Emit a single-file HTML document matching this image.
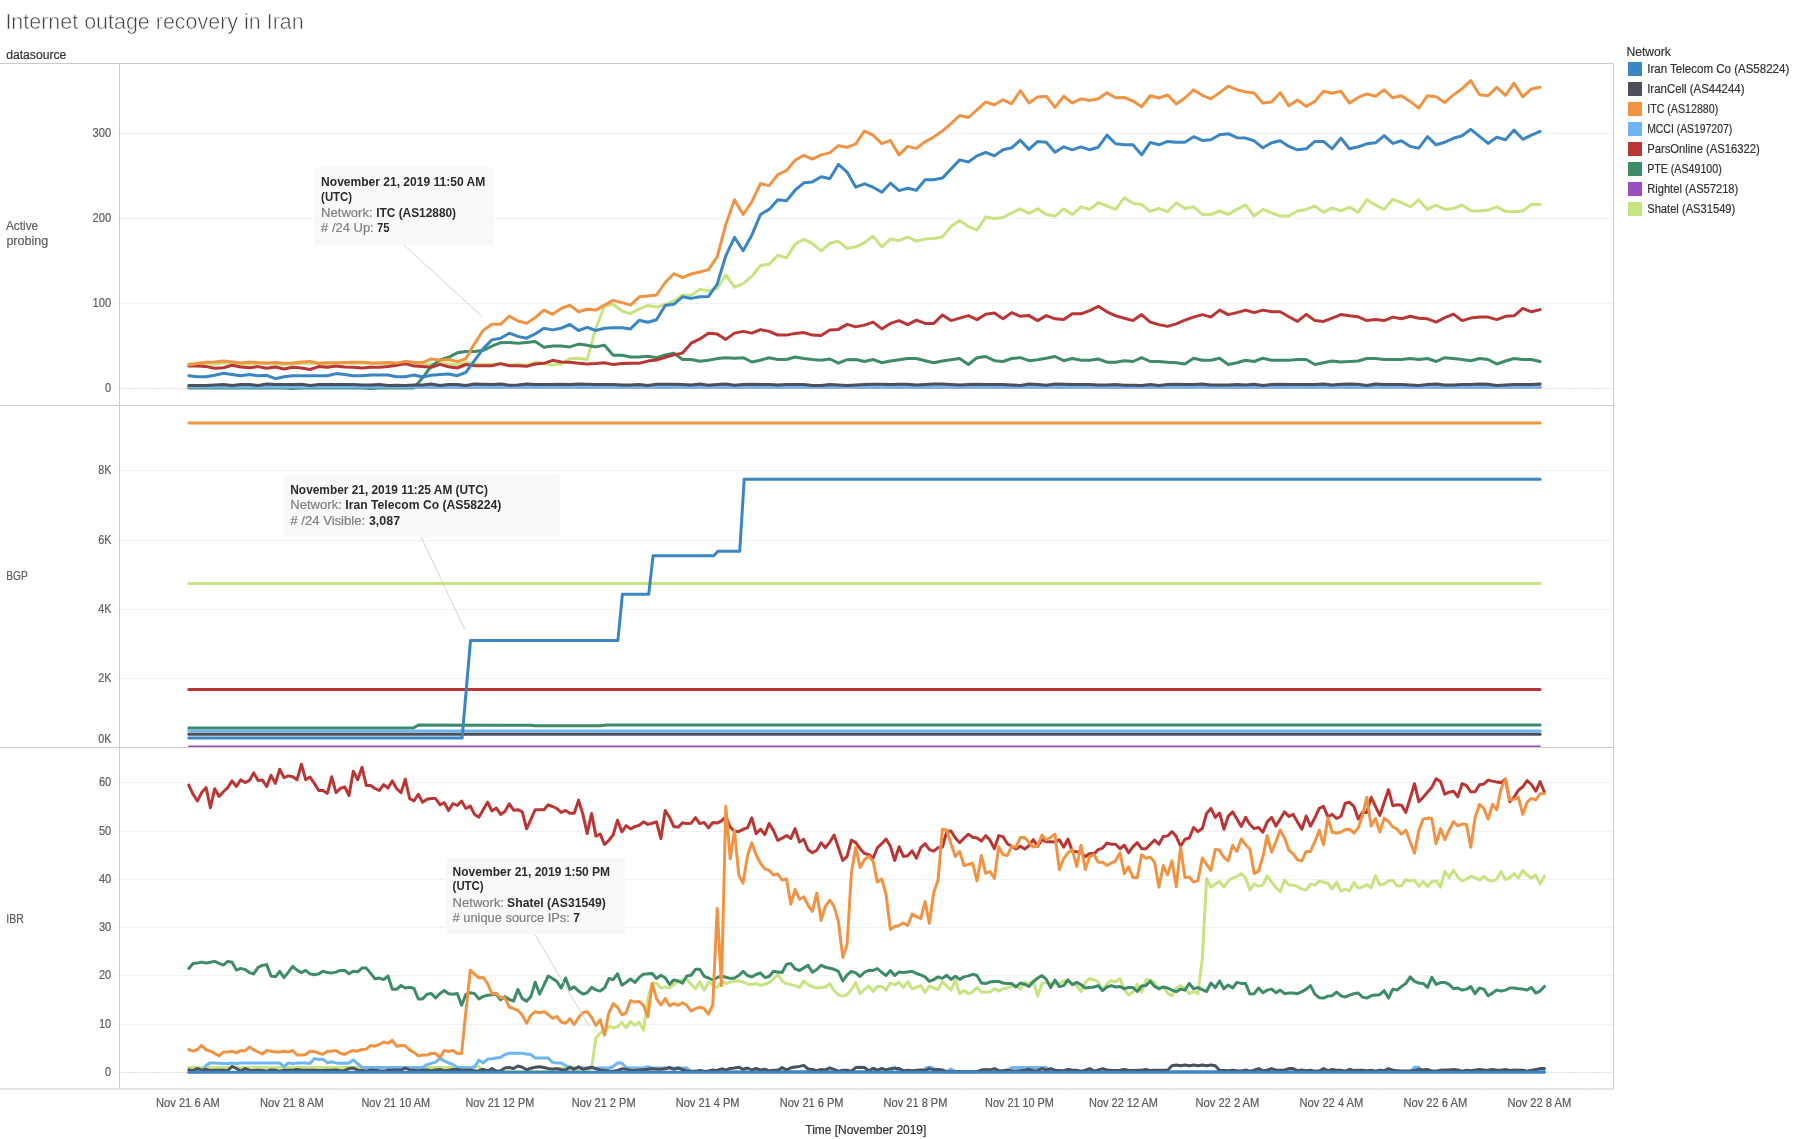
<!DOCTYPE html>
<html><head><meta charset="utf-8"><title>Internet outage recovery in Iran</title>
<style>html,body{margin:0;padding:0;background:#fff;}body{width:1794px;height:1139px;overflow:hidden;position:relative;font-family:"Liberation Sans", sans-serif;}</style>
</head><body>
<svg width="1794" height="1139" viewBox="0 0 1794 1139" style="display:block;position:absolute;left:0;top:0;will-change:transform" font-family='"Liberation Sans", sans-serif'>
<rect x="0" y="0" width="1794" height="1139" fill="#fff"/>
<line x1="114.5" y1="133.5" x2="1613.5" y2="133.5" stroke="#f1f1f1" stroke-width="1"/>
<line x1="114.5" y1="218.5" x2="1613.5" y2="218.5" stroke="#f1f1f1" stroke-width="1"/>
<line x1="114.5" y1="303.5" x2="1613.5" y2="303.5" stroke="#f1f1f1" stroke-width="1"/>
<line x1="114.5" y1="470.5" x2="1613.5" y2="470.5" stroke="#f1f1f1" stroke-width="1"/>
<line x1="114.5" y1="540.5" x2="1613.5" y2="540.5" stroke="#f1f1f1" stroke-width="1"/>
<line x1="114.5" y1="609.5" x2="1613.5" y2="609.5" stroke="#f1f1f1" stroke-width="1"/>
<line x1="114.5" y1="678.5" x2="1613.5" y2="678.5" stroke="#f1f1f1" stroke-width="1"/>
<line x1="114.5" y1="782.5" x2="1613.5" y2="782.5" stroke="#f1f1f1" stroke-width="1"/>
<line x1="114.5" y1="831.5" x2="1613.5" y2="831.5" stroke="#f1f1f1" stroke-width="1"/>
<line x1="114.5" y1="879.5" x2="1613.5" y2="879.5" stroke="#f1f1f1" stroke-width="1"/>
<line x1="114.5" y1="927.5" x2="1613.5" y2="927.5" stroke="#f1f1f1" stroke-width="1"/>
<line x1="114.5" y1="975.5" x2="1613.5" y2="975.5" stroke="#f1f1f1" stroke-width="1"/>
<line x1="114.5" y1="1024.5" x2="1613.5" y2="1024.5" stroke="#f1f1f1" stroke-width="1"/>
<line x1="114.5" y1="388.5" x2="119.5" y2="388.5" stroke="#f1f1f1" stroke-width="1"/>
<line x1="114.5" y1="1072.5" x2="119.5" y2="1072.5" stroke="#f1f1f1" stroke-width="1"/>
<line x1="119.5" y1="388.5" x2="1613.5" y2="388.5" stroke="#bdbdbd" stroke-width="1" stroke-dasharray="1 2"/>
<line x1="119.5" y1="1072.5" x2="1613.5" y2="1072.5" stroke="#bdbdbd" stroke-width="1" stroke-dasharray="1 2"/>
<line x1="0.0" y1="63.5" x2="1613.5" y2="63.5" stroke="#cbcbcb" stroke-width="1"/>
<line x1="0.0" y1="405.5" x2="1613.5" y2="405.5" stroke="#cbcbcb" stroke-width="1"/>
<line x1="0.0" y1="747.5" x2="1613.5" y2="747.5" stroke="#cbcbcb" stroke-width="1"/>
<line x1="0.0" y1="1089.0" x2="1613.5" y2="1089.0" stroke="#cbcbcb" stroke-width="1"/>
<line x1="119.5" y1="63.5" x2="119.5" y2="1089.0" stroke="#cbcbcb" stroke-width="1"/>
<line x1="1613.5" y1="63.5" x2="1613.5" y2="1089.0" stroke="#cbcbcb" stroke-width="1"/>
<line x1="188.0" y1="1089.5" x2="188.0" y2="1093.5" stroke="#e8e8e8" stroke-width="1"/>
<line x1="240.0" y1="1089.5" x2="240.0" y2="1091.5" stroke="#efefef" stroke-width="1"/>
<line x1="291.9" y1="1089.5" x2="291.9" y2="1093.5" stroke="#e8e8e8" stroke-width="1"/>
<line x1="343.9" y1="1089.5" x2="343.9" y2="1091.5" stroke="#efefef" stroke-width="1"/>
<line x1="395.9" y1="1089.5" x2="395.9" y2="1093.5" stroke="#e8e8e8" stroke-width="1"/>
<line x1="447.9" y1="1089.5" x2="447.9" y2="1091.5" stroke="#efefef" stroke-width="1"/>
<line x1="499.9" y1="1089.5" x2="499.9" y2="1093.5" stroke="#e8e8e8" stroke-width="1"/>
<line x1="551.8" y1="1089.5" x2="551.8" y2="1091.5" stroke="#efefef" stroke-width="1"/>
<line x1="603.8" y1="1089.5" x2="603.8" y2="1093.5" stroke="#e8e8e8" stroke-width="1"/>
<line x1="655.8" y1="1089.5" x2="655.8" y2="1091.5" stroke="#efefef" stroke-width="1"/>
<line x1="707.8" y1="1089.5" x2="707.8" y2="1093.5" stroke="#e8e8e8" stroke-width="1"/>
<line x1="759.7" y1="1089.5" x2="759.7" y2="1091.5" stroke="#efefef" stroke-width="1"/>
<line x1="811.7" y1="1089.5" x2="811.7" y2="1093.5" stroke="#e8e8e8" stroke-width="1"/>
<line x1="863.7" y1="1089.5" x2="863.7" y2="1091.5" stroke="#efefef" stroke-width="1"/>
<line x1="915.6" y1="1089.5" x2="915.6" y2="1093.5" stroke="#e8e8e8" stroke-width="1"/>
<line x1="967.6" y1="1089.5" x2="967.6" y2="1091.5" stroke="#efefef" stroke-width="1"/>
<line x1="1019.6" y1="1089.5" x2="1019.6" y2="1093.5" stroke="#e8e8e8" stroke-width="1"/>
<line x1="1071.6" y1="1089.5" x2="1071.6" y2="1091.5" stroke="#efefef" stroke-width="1"/>
<line x1="1123.6" y1="1089.5" x2="1123.6" y2="1093.5" stroke="#e8e8e8" stroke-width="1"/>
<line x1="1175.5" y1="1089.5" x2="1175.5" y2="1091.5" stroke="#efefef" stroke-width="1"/>
<line x1="1227.5" y1="1089.5" x2="1227.5" y2="1093.5" stroke="#e8e8e8" stroke-width="1"/>
<line x1="1279.5" y1="1089.5" x2="1279.5" y2="1091.5" stroke="#efefef" stroke-width="1"/>
<line x1="1331.5" y1="1089.5" x2="1331.5" y2="1093.5" stroke="#e8e8e8" stroke-width="1"/>
<line x1="1383.4" y1="1089.5" x2="1383.4" y2="1091.5" stroke="#efefef" stroke-width="1"/>
<line x1="1435.4" y1="1089.5" x2="1435.4" y2="1093.5" stroke="#e8e8e8" stroke-width="1"/>
<line x1="1487.4" y1="1089.5" x2="1487.4" y2="1091.5" stroke="#efefef" stroke-width="1"/>
<line x1="1539.4" y1="1089.5" x2="1539.4" y2="1093.5" stroke="#e8e8e8" stroke-width="1"/>
<line x1="1591.3" y1="1089.5" x2="1591.3" y2="1091.5" stroke="#efefef" stroke-width="1"/>
<polyline fill="none" stroke="#C6E480" stroke-width="3.0" stroke-linejoin="round" stroke-linecap="round" points="188.8,363.6 197.4,363.6 206.1,363.9 214.7,364.3 223.4,363.1 232.1,363.1 240.7,364.3 249.4,363.9 258.1,363.6 266.7,363.6 275.4,364.3 284.0,364.3 292.7,364.3 301.4,363.6 310.0,363.6 318.7,363.6 327.4,364.3 336.0,363.1 344.7,363.1 353.3,363.6 362.0,363.1 370.7,363.9 379.3,363.1 388.0,363.9 396.6,364.3 405.3,364.3 414.0,364.3 422.6,364.3 431.3,364.3 440.0,363.6 448.6,364.0 457.3,365.0 465.9,362.0 474.6,364.0 483.3,364.5 491.9,364.5 500.6,363.6 509.3,365.0 517.9,364.1 526.6,365.3 535.2,362.3 543.9,363.6 552.6,365.0 561.2,364.1 569.9,358.6 578.6,358.3 587.2,359.5 595.9,328.2 604.5,306.0 613.2,304.3 621.9,311.0 630.5,313.8 639.2,308.8 647.9,305.5 656.5,307.1 665.2,304.3 673.8,300.9 682.5,295.1 691.2,295.4 699.8,289.2 708.5,290.9 717.2,288.1 725.8,275.0 734.5,287.1 743.1,283.7 751.8,276.4 760.5,265.5 769.1,264.3 777.8,255.2 786.5,257.9 795.1,244.1 803.8,239.3 812.4,243.7 821.1,250.8 829.8,243.3 838.4,241.3 847.1,248.4 855.8,246.8 864.4,242.7 873.1,236.1 881.8,246.8 890.4,239.1 899.1,240.7 907.7,236.9 916.4,241.1 925.1,239.1 933.7,238.5 942.4,236.9 951.0,226.6 959.7,220.5 968.4,226.6 977.0,230.0 985.7,217.1 994.4,218.5 1003.0,217.5 1011.7,212.8 1020.3,208.8 1029.0,213.4 1037.7,208.8 1046.3,214.5 1055.0,216.1 1063.7,208.8 1072.3,214.5 1081.0,206.8 1089.7,209.4 1098.3,202.7 1107.0,206.0 1115.6,209.4 1124.3,197.7 1133.0,203.3 1141.6,204.4 1150.3,211.4 1158.9,208.4 1167.6,211.8 1176.3,202.7 1184.9,208.4 1193.6,206.8 1202.3,214.5 1210.9,214.5 1219.6,211.0 1228.2,214.5 1236.9,209.4 1245.6,205.0 1254.2,216.1 1262.9,209.4 1271.6,212.8 1280.2,216.1 1288.9,215.9 1297.5,211.0 1306.2,209.4 1314.9,206.0 1323.5,212.4 1332.2,207.8 1340.9,210.8 1349.5,207.0 1358.2,212.4 1366.8,199.9 1375.5,205.0 1384.2,209.4 1392.8,199.3 1401.5,202.7 1410.2,206.8 1418.8,199.9 1427.5,209.4 1436.1,205.0 1444.8,209.4 1453.5,208.4 1462.1,205.0 1470.8,210.8 1479.5,211.0 1488.1,210.0 1496.8,206.8 1505.5,211.4 1514.1,211.8 1522.8,211.0 1531.4,204.4 1540.1,204.4"/>
<polyline fill="none" stroke="#9B4DC1" stroke-width="3.0" stroke-linejoin="round" stroke-linecap="round" points="188.8,387.1 197.4,387.1 206.1,387.1 214.7,387.1 223.4,387.1 232.1,387.1 240.7,387.1 249.4,387.1 258.1,387.1 266.7,387.1 275.4,387.1 284.0,387.1 292.7,387.1 301.4,387.1 310.0,387.1 318.7,387.1 327.4,387.1 336.0,387.1 344.7,387.1 353.3,387.1 362.0,387.1 370.7,387.1 379.3,387.1 388.0,387.1 396.6,387.1 405.3,387.1 414.0,387.1 422.6,387.1 431.3,387.1 440.0,387.1 448.6,387.1 457.3,387.1 465.9,387.1 474.6,387.1 483.3,387.1 491.9,387.1 500.6,387.1 509.3,387.1 517.9,387.1 526.6,387.1 535.2,387.1 543.9,387.1 552.6,387.1 561.2,387.1 569.9,387.1 578.6,387.1 587.2,387.1 595.9,387.1 604.5,387.1 613.2,387.1 621.9,387.1 630.5,387.1 639.2,387.1 647.9,387.1 656.5,387.1 665.2,387.1 673.8,387.1 682.5,387.1 691.2,387.1 699.8,387.1 708.5,387.1 717.2,387.1 725.8,387.1 734.5,387.1 743.1,387.1 751.8,387.1 760.5,387.1 769.1,387.1 777.8,387.1 786.5,387.1 795.1,387.1 803.8,387.1 812.4,387.1 821.1,387.1 829.8,387.1 838.4,387.1 847.1,387.1 855.8,387.1 864.4,387.1 873.1,387.1 881.8,387.1 890.4,387.1 899.1,387.1 907.7,387.1 916.4,387.1 925.1,387.1 933.7,387.1 942.4,387.1 951.0,387.1 959.7,387.1 968.4,387.1 977.0,387.1 985.7,387.1 994.4,387.1 1003.0,387.1 1011.7,387.1 1020.3,387.1 1029.0,387.1 1037.7,387.1 1046.3,387.1 1055.0,387.1 1063.7,387.1 1072.3,387.1 1081.0,387.1 1089.7,387.1 1098.3,387.1 1107.0,387.1 1115.6,387.1 1124.3,387.1 1133.0,387.1 1141.6,387.1 1150.3,387.1 1158.9,387.1 1167.6,387.1 1176.3,387.1 1184.9,387.1 1193.6,387.1 1202.3,387.1 1210.9,387.1 1219.6,387.1 1228.2,387.1 1236.9,387.1 1245.6,387.1 1254.2,387.1 1262.9,387.1 1271.6,387.1 1280.2,387.1 1288.9,387.1 1297.5,387.1 1306.2,387.1 1314.9,387.1 1323.5,387.1 1332.2,387.1 1340.9,387.1 1349.5,387.1 1358.2,387.1 1366.8,387.1 1375.5,387.1 1384.2,387.1 1392.8,387.1 1401.5,387.1 1410.2,387.1 1418.8,387.1 1427.5,387.1 1436.1,387.1 1444.8,387.1 1453.5,387.1 1462.1,387.1 1470.8,387.1 1479.5,387.1 1488.1,387.1 1496.8,387.1 1505.5,387.1 1514.1,387.1 1522.8,387.1 1531.4,387.1 1540.1,387.1"/>
<polyline fill="none" stroke="#3E8B68" stroke-width="3.0" stroke-linejoin="round" stroke-linecap="round" points="188.8,388.0 197.4,388.0 206.1,388.0 214.7,388.0 223.4,388.0 232.1,388.0 240.7,388.0 249.4,388.0 258.1,388.0 266.7,388.0 275.4,388.0 284.0,388.0 292.7,388.4 301.4,388.0 310.0,388.0 318.7,388.0 327.4,388.0 336.0,388.0 344.7,388.0 353.3,388.0 362.0,388.0 370.7,388.4 379.3,388.0 388.0,388.0 396.6,388.0 405.3,388.0 414.0,387.9 422.6,377.8 431.3,366.1 440.0,359.9 448.6,357.3 457.3,352.8 465.9,351.4 474.6,351.4 483.3,350.3 491.9,346.1 500.6,342.7 509.3,342.4 517.9,343.2 526.6,342.4 535.2,341.6 543.9,347.3 552.6,346.1 561.2,346.1 569.9,346.9 578.6,344.1 587.2,345.3 595.9,346.9 604.5,345.3 613.2,355.3 621.9,355.3 630.5,357.0 639.2,357.0 647.9,356.3 656.5,357.8 665.2,354.9 673.8,353.1 682.5,359.5 691.2,359.5 699.8,361.3 708.5,360.3 717.2,358.6 725.8,357.8 734.5,358.2 743.1,357.7 751.8,362.0 760.5,360.2 769.1,357.7 777.8,359.5 786.5,359.5 795.1,357.0 803.8,358.5 812.4,359.5 821.1,360.2 829.8,359.0 838.4,363.2 847.1,359.7 855.8,359.5 864.4,361.5 873.1,359.5 881.8,362.7 890.4,361.0 899.1,359.7 907.7,358.5 916.4,358.5 925.1,360.7 933.7,362.7 942.4,361.0 951.0,359.7 959.7,358.5 968.4,364.5 977.0,357.7 985.7,356.5 994.4,360.7 1003.0,361.5 1011.7,358.5 1020.3,357.7 1029.0,360.7 1037.7,359.7 1046.3,358.2 1055.0,356.5 1063.7,360.7 1072.3,358.5 1081.0,360.2 1089.7,360.2 1098.3,359.0 1107.0,362.2 1115.6,362.2 1124.3,360.7 1133.0,361.5 1141.6,357.7 1150.3,361.5 1158.9,361.5 1167.6,362.2 1176.3,362.7 1184.9,364.0 1193.6,358.2 1202.3,360.2 1210.9,360.2 1219.6,358.2 1228.2,364.5 1236.9,362.7 1245.6,360.2 1254.2,361.5 1262.9,358.2 1271.6,360.2 1280.2,360.2 1288.9,360.2 1297.5,359.5 1306.2,359.5 1314.9,364.5 1323.5,362.7 1332.2,361.0 1340.9,362.0 1349.5,361.5 1358.2,361.0 1366.8,358.5 1375.5,358.5 1384.2,359.5 1392.8,359.5 1401.5,359.5 1410.2,358.5 1418.8,359.5 1427.5,358.5 1436.1,361.5 1444.8,357.7 1453.5,358.5 1462.1,359.5 1470.8,360.7 1479.5,358.5 1488.1,359.5 1496.8,364.0 1505.5,361.0 1514.1,358.5 1522.8,359.5 1531.4,359.5 1540.1,361.5"/>
<polyline fill="none" stroke="#B93634" stroke-width="3.0" stroke-linejoin="round" stroke-linecap="round" points="188.8,366.1 197.4,366.1 206.1,366.6 214.7,368.3 223.4,367.8 232.1,365.3 240.7,367.0 249.4,367.8 258.1,366.6 266.7,368.3 275.4,367.0 284.0,369.0 292.7,367.3 301.4,368.1 310.0,369.5 318.7,366.6 327.4,367.3 336.0,366.1 344.7,367.0 353.3,367.3 362.0,368.1 370.7,367.3 379.3,367.3 388.0,366.6 396.6,365.3 405.3,363.6 414.0,366.1 422.6,366.6 431.3,367.3 440.0,364.4 448.6,366.7 457.3,368.0 465.9,364.5 474.6,365.7 483.3,365.7 491.9,365.7 500.6,363.6 509.3,365.7 517.9,365.7 526.6,366.3 535.2,364.0 543.9,363.3 552.6,360.3 561.2,362.0 569.9,362.3 578.6,363.3 587.2,364.0 595.9,363.6 604.5,362.8 613.2,364.6 621.9,363.6 630.5,363.3 639.2,363.3 647.9,361.1 656.5,360.0 665.2,357.3 673.8,354.9 682.5,353.1 691.2,343.2 699.8,338.9 708.5,333.2 717.2,333.9 725.8,339.4 734.5,333.1 743.1,331.4 751.8,333.1 760.5,329.6 769.1,331.4 777.8,335.1 786.5,335.1 795.1,333.4 803.8,332.6 812.4,335.1 821.1,335.6 829.8,330.1 838.4,329.4 847.1,324.4 855.8,326.9 864.4,325.1 873.1,322.1 881.8,328.9 890.4,323.4 899.1,320.6 907.7,324.6 916.4,320.1 925.1,323.4 933.7,323.4 942.4,315.1 951.0,320.6 959.7,318.1 968.4,315.6 977.0,319.6 985.7,314.3 994.4,313.1 1003.0,318.8 1011.7,312.6 1020.3,316.3 1029.0,315.6 1037.7,320.6 1046.3,315.6 1055.0,318.8 1063.7,319.6 1072.3,313.8 1081.0,313.8 1089.7,310.6 1098.3,306.3 1107.0,311.8 1115.6,315.8 1124.3,318.3 1133.0,320.6 1141.6,314.6 1150.3,322.1 1158.9,324.6 1167.6,326.4 1176.3,323.9 1184.9,320.1 1193.6,317.1 1202.3,314.6 1210.9,317.1 1219.6,310.1 1228.2,314.6 1236.9,312.6 1245.6,310.1 1254.2,312.6 1262.9,310.1 1271.6,311.8 1280.2,311.8 1288.9,316.8 1297.5,321.4 1306.2,314.3 1314.9,320.6 1323.5,321.4 1332.2,318.1 1340.9,314.6 1349.5,315.8 1358.2,316.8 1366.8,320.6 1375.5,319.6 1384.2,320.6 1392.8,317.1 1401.5,318.8 1410.2,316.3 1418.8,318.3 1427.5,318.8 1436.1,322.1 1444.8,317.6 1453.5,314.1 1462.1,320.6 1470.8,318.1 1479.5,317.1 1488.1,317.1 1496.8,319.6 1505.5,316.3 1514.1,315.8 1522.8,308.3 1531.4,311.8 1540.1,309.6"/>
<polyline fill="none" stroke="#6EB5F2" stroke-width="3.0" stroke-linejoin="round" stroke-linecap="round" points="188.8,386.9 197.4,386.9 206.1,386.9 214.7,386.9 223.4,386.9 232.1,386.9 240.7,386.9 249.4,386.9 258.1,386.9 266.7,386.9 275.4,386.9 284.0,386.9 292.7,386.9 301.4,386.9 310.0,386.9 318.7,386.9 327.4,386.9 336.0,386.9 344.7,386.9 353.3,386.9 362.0,386.9 370.7,386.9 379.3,386.9 388.0,386.9 396.6,386.9 405.3,386.9 414.0,386.9 422.6,386.9 431.3,386.9 440.0,386.9 448.6,386.9 457.3,386.9 465.9,386.9 474.6,386.9 483.3,386.9 491.9,386.9 500.6,386.9 509.3,386.9 517.9,386.9 526.6,386.9 535.2,386.9 543.9,386.9 552.6,386.9 561.2,386.9 569.9,386.9 578.6,386.9 587.2,386.9 595.9,386.9 604.5,386.9 613.2,386.9 621.9,386.9 630.5,386.9 639.2,386.9 647.9,386.9 656.5,386.9 665.2,386.9 673.8,386.9 682.5,386.9 691.2,386.9 699.8,386.9 708.5,386.9 717.2,386.9 725.8,386.9 734.5,386.9 743.1,386.9 751.8,386.9 760.5,386.9 769.1,386.9 777.8,386.9 786.5,386.9 795.1,386.9 803.8,386.9 812.4,386.9 821.1,386.9 829.8,386.9 838.4,386.9 847.1,386.9 855.8,386.9 864.4,386.9 873.1,386.9 881.8,386.9 890.4,386.9 899.1,386.9 907.7,386.9 916.4,386.9 925.1,386.9 933.7,386.9 942.4,386.9 951.0,386.9 959.7,386.9 968.4,386.9 977.0,386.9 985.7,386.9 994.4,386.9 1003.0,386.9 1011.7,386.9 1020.3,386.9 1029.0,386.9 1037.7,386.9 1046.3,386.9 1055.0,386.9 1063.7,386.9 1072.3,386.9 1081.0,386.9 1089.7,386.9 1098.3,386.9 1107.0,386.9 1115.6,386.9 1124.3,386.9 1133.0,386.9 1141.6,386.9 1150.3,386.9 1158.9,386.9 1167.6,386.9 1176.3,386.9 1184.9,386.9 1193.6,386.9 1202.3,386.9 1210.9,386.9 1219.6,386.9 1228.2,386.9 1236.9,386.9 1245.6,386.9 1254.2,386.9 1262.9,386.9 1271.6,386.9 1280.2,386.9 1288.9,386.9 1297.5,386.9 1306.2,386.9 1314.9,386.9 1323.5,386.9 1332.2,386.9 1340.9,386.9 1349.5,386.9 1358.2,386.9 1366.8,386.9 1375.5,386.9 1384.2,386.9 1392.8,386.9 1401.5,386.9 1410.2,386.9 1418.8,386.9 1427.5,386.9 1436.1,386.9 1444.8,386.9 1453.5,386.9 1462.1,386.9 1470.8,386.9 1479.5,386.9 1488.1,386.9 1496.8,386.9 1505.5,386.9 1514.1,386.9 1522.8,386.9 1531.4,386.9 1540.1,386.9"/>
<polyline fill="none" stroke="#F09444" stroke-width="3.0" stroke-linejoin="round" stroke-linecap="round" points="188.8,364.9 197.4,363.6 206.1,362.3 214.7,361.9 223.4,361.1 232.1,361.9 240.7,363.1 249.4,361.9 258.1,362.6 266.7,363.1 275.4,362.6 284.0,363.3 292.7,363.1 301.4,361.9 310.0,361.4 318.7,363.3 327.4,362.8 336.0,362.8 344.7,362.6 353.3,362.3 362.0,362.3 370.7,362.8 379.3,363.1 388.0,362.6 396.6,363.1 405.3,361.4 414.0,362.3 422.6,362.6 431.3,358.9 440.0,360.3 448.6,359.5 457.3,361.6 465.9,358.6 474.6,343.6 483.3,330.2 491.9,324.3 500.6,324.3 509.3,316.0 517.9,321.0 526.6,323.2 535.2,317.7 543.9,310.1 552.6,314.3 561.2,308.5 569.9,305.1 578.6,311.8 587.2,309.3 595.9,310.1 604.5,305.1 613.2,300.4 621.9,302.6 630.5,305.1 639.2,296.8 647.9,295.9 656.5,295.1 665.2,282.5 673.8,273.7 682.5,277.6 691.2,274.0 699.8,272.0 708.5,269.6 717.2,256.9 725.8,224.5 734.5,199.7 743.1,214.5 751.8,201.9 760.5,183.6 769.1,185.6 777.8,174.7 786.5,170.6 795.1,160.3 803.8,155.3 812.4,159.1 821.1,154.9 829.8,152.9 838.4,145.6 847.1,147.4 855.8,143.8 864.4,131.1 873.1,135.1 881.8,143.6 890.4,140.4 899.1,154.9 907.7,146.4 916.4,148.4 925.1,141.8 933.7,137.1 942.4,131.1 951.0,123.6 959.7,115.5 968.4,117.5 977.0,109.9 985.7,102.0 994.4,104.8 1003.0,99.8 1011.7,103.8 1020.3,90.7 1029.0,103.0 1037.7,96.9 1046.3,96.3 1055.0,107.4 1063.7,96.3 1072.3,103.0 1081.0,98.8 1089.7,100.4 1098.3,98.8 1107.0,92.7 1115.6,97.8 1124.3,97.4 1133.0,101.0 1141.6,106.8 1150.3,95.7 1158.9,98.0 1167.6,94.9 1176.3,104.0 1184.9,98.0 1193.6,89.9 1202.3,95.3 1210.9,98.8 1219.6,92.7 1228.2,86.2 1236.9,89.7 1245.6,91.9 1254.2,92.9 1262.9,103.0 1271.6,102.0 1280.2,92.7 1288.9,105.8 1297.5,100.0 1306.2,106.4 1314.9,101.4 1323.5,91.3 1332.2,93.3 1340.9,91.3 1349.5,103.0 1358.2,97.4 1366.8,93.9 1375.5,96.3 1384.2,89.9 1392.8,97.8 1401.5,95.7 1410.2,101.4 1418.8,108.1 1427.5,95.7 1436.1,96.7 1444.8,102.4 1453.5,94.9 1462.1,88.7 1470.8,80.6 1479.5,94.7 1488.1,95.7 1496.8,87.3 1505.5,95.3 1514.1,83.2 1522.8,96.9 1531.4,88.9 1540.1,87.3"/>
<polyline fill="none" stroke="#4B505A" stroke-width="3.0" stroke-linejoin="round" stroke-linecap="round" points="188.8,385.4 197.4,385.4 206.1,385.4 214.7,384.9 223.4,384.5 232.1,385.4 240.7,384.5 249.4,384.5 258.1,385.4 266.7,384.1 275.4,384.5 284.0,384.5 292.7,384.5 301.4,384.3 310.0,385.4 318.7,384.5 327.4,384.5 336.0,384.5 344.7,384.5 353.3,384.5 362.0,384.9 370.7,384.9 379.3,384.5 388.0,385.4 396.6,385.2 405.3,385.4 414.0,384.9 422.6,384.9 431.3,384.1 440.0,385.4 448.6,384.5 457.3,384.5 465.9,385.4 474.6,384.1 483.3,384.3 491.9,384.5 500.6,384.1 509.3,385.2 517.9,384.9 526.6,384.1 535.2,384.5 543.9,384.5 552.6,384.5 561.2,384.3 569.9,384.5 578.6,384.1 587.2,384.3 595.9,384.5 604.5,384.5 613.2,384.5 621.9,384.9 630.5,384.9 639.2,384.5 647.9,385.4 656.5,384.3 665.2,384.3 673.8,384.3 682.5,384.5 691.2,384.9 699.8,384.1 708.5,385.2 717.2,384.5 725.8,384.1 734.5,385.2 743.1,384.5 751.8,384.3 760.5,384.5 769.1,384.5 777.8,384.9 786.5,384.5 795.1,384.5 803.8,384.5 812.4,385.4 821.1,385.4 829.8,384.5 838.4,384.9 847.1,385.4 855.8,384.9 864.4,384.5 873.1,384.3 881.8,384.3 890.4,384.5 899.1,384.3 907.7,384.3 916.4,384.9 925.1,384.5 933.7,384.1 942.4,384.1 951.0,384.5 959.7,384.9 968.4,384.5 977.0,384.3 985.7,384.5 994.4,384.5 1003.0,384.5 1011.7,384.9 1020.3,385.4 1029.0,384.1 1037.7,384.5 1046.3,385.2 1055.0,384.1 1063.7,384.3 1072.3,384.5 1081.0,384.5 1089.7,384.5 1098.3,384.9 1107.0,384.9 1115.6,384.5 1124.3,385.2 1133.0,385.2 1141.6,385.4 1150.3,384.5 1158.9,385.4 1167.6,384.5 1176.3,384.3 1184.9,384.5 1193.6,384.5 1202.3,384.1 1210.9,384.9 1219.6,384.9 1228.2,384.9 1236.9,384.5 1245.6,384.9 1254.2,384.3 1262.9,385.4 1271.6,384.5 1280.2,384.3 1288.9,384.5 1297.5,384.5 1306.2,384.5 1314.9,384.5 1323.5,384.1 1332.2,384.9 1340.9,384.3 1349.5,384.1 1358.2,384.3 1366.8,385.4 1375.5,384.1 1384.2,384.5 1392.8,384.5 1401.5,384.5 1410.2,384.9 1418.8,385.4 1427.5,384.5 1436.1,384.1 1444.8,384.9 1453.5,384.9 1462.1,384.5 1470.8,384.5 1479.5,384.1 1488.1,384.3 1496.8,385.4 1505.5,384.9 1514.1,384.5 1522.8,384.5 1531.4,384.5 1540.1,384.1"/>
<polyline fill="none" stroke="#3A86C4" stroke-width="3.0" stroke-linejoin="round" stroke-linecap="round" points="188.8,375.7 197.4,376.7 206.1,376.7 214.7,375.3 223.4,373.3 232.1,374.5 240.7,375.7 249.4,374.5 258.1,375.7 266.7,375.3 275.4,378.7 284.0,376.7 292.7,375.7 301.4,375.7 310.0,375.7 318.7,375.7 327.4,375.7 336.0,373.6 344.7,374.5 353.3,375.7 362.0,375.7 370.7,375.0 379.3,375.0 388.0,375.0 396.6,376.7 405.3,376.7 414.0,375.0 422.6,377.0 431.3,375.3 440.0,374.5 448.6,374.0 457.3,375.7 465.9,372.3 474.6,360.3 483.3,348.6 491.9,339.9 500.6,338.2 509.3,333.2 517.9,336.4 526.6,338.2 535.2,333.9 543.9,328.2 552.6,329.9 561.2,328.2 569.9,324.5 578.6,330.5 587.2,327.4 595.9,330.5 604.5,328.2 613.2,327.7 621.9,327.7 630.5,328.9 639.2,320.2 647.9,322.2 656.5,319.7 665.2,305.5 673.8,304.3 682.5,296.8 691.2,298.4 699.8,296.8 708.5,296.4 717.2,284.1 725.8,255.8 734.5,237.3 743.1,250.8 751.8,235.2 760.5,214.5 769.1,209.4 777.8,199.7 786.5,200.7 795.1,190.2 803.8,182.8 812.4,181.9 821.1,176.7 829.8,178.7 838.4,164.4 847.1,172.1 855.8,187.2 864.4,183.8 873.1,187.2 881.8,192.2 890.4,183.2 899.1,190.6 907.7,188.2 916.4,190.2 925.1,179.7 933.7,179.7 942.4,178.1 951.0,169.0 959.7,159.9 968.4,162.0 977.0,155.9 985.7,152.3 994.4,155.9 1003.0,149.8 1011.7,147.8 1020.3,140.2 1029.0,149.4 1037.7,141.4 1046.3,142.2 1055.0,152.3 1063.7,146.8 1072.3,149.8 1081.0,146.8 1089.7,149.8 1098.3,147.2 1107.0,135.1 1115.6,143.8 1124.3,144.8 1133.0,144.8 1141.6,154.9 1150.3,142.4 1158.9,144.8 1167.6,141.4 1176.3,142.2 1184.9,142.2 1193.6,136.7 1202.3,140.4 1210.9,139.7 1219.6,134.7 1228.2,133.7 1236.9,137.7 1245.6,138.1 1254.2,140.8 1262.9,147.8 1271.6,142.8 1280.2,140.8 1288.9,146.4 1297.5,149.8 1306.2,148.8 1314.9,141.4 1323.5,141.4 1332.2,148.8 1340.9,138.1 1349.5,148.8 1358.2,146.8 1366.8,143.8 1375.5,142.8 1384.2,135.7 1392.8,143.4 1401.5,140.8 1410.2,146.4 1418.8,148.2 1427.5,136.7 1436.1,144.8 1444.8,142.2 1453.5,138.3 1462.1,135.7 1470.8,129.3 1479.5,136.3 1488.1,143.4 1496.8,137.3 1505.5,139.7 1514.1,130.1 1522.8,139.3 1531.4,135.1 1540.1,131.3"/>
<polyline fill="none" stroke="#C6E480" stroke-width="3.0" stroke-linejoin="round" stroke-linecap="round" points="188.8,583.45 1540.1,583.45"/>
<polyline fill="none" stroke="#9B4DC1" stroke-width="1.6" stroke-linecap="round" points="188.8,746.2 1540.1,746.2"/>
<polyline fill="none" stroke="#3E8B68" stroke-width="3.0" stroke-linejoin="round" stroke-linecap="round" points="188.8,728.0 413.4,728.0 418.5,725.0 530,725.3 535,725.8 600,725.8 607,725.0 1540.1,725.0"/>
<polyline fill="none" stroke="#B93634" stroke-width="3.0" stroke-linejoin="round" stroke-linecap="round" points="188.8,689.4 1540.1,689.4"/>
<polyline fill="none" stroke="#6EB5F2" stroke-width="3.0" stroke-linejoin="round" stroke-linecap="round" points="188.8,731.0 1540.1,731.0"/>
<polyline fill="none" stroke="#F09444" stroke-width="3.0" stroke-linejoin="round" stroke-linecap="round" points="188.8,422.9 1540.1,422.9"/>
<polyline fill="none" stroke="#4B505A" stroke-width="3.0" stroke-linejoin="round" stroke-linecap="round" points="188.8,734.3 1540.1,734.3"/>
<polyline fill="none" stroke="#3A86C4" stroke-width="3.0" stroke-linejoin="round" stroke-linecap="round" points="188.8,738.0 462.1,738.0 470.5,640.5 617.9,640.5 622.4,594.3 648.7,594.3 653.1,555.7 713.7,555.7 717.9,551.3 739.7,551.3 744.2,479.3 1540.1,479.3"/>
<polyline fill="none" stroke="#C6E480" stroke-width="3.0" stroke-linejoin="round" stroke-linecap="round" points="188.8,1067.5 193.1,1067.5 197.4,1067.5 201.7,1067.5 206.1,1067.5 210.4,1067.5 214.7,1067.5 219.1,1067.5 223.4,1067.5 227.7,1067.5 232.1,1067.5 236.4,1067.5 240.7,1067.5 245.1,1067.5 249.4,1067.5 253.7,1067.5 258.1,1067.5 262.4,1067.5 266.7,1067.5 271.0,1067.5 275.4,1067.5 279.7,1067.5 284.0,1067.5 288.4,1067.5 292.7,1067.5 297.0,1067.5 301.4,1067.5 305.7,1067.5 310.0,1067.5 314.4,1067.5 318.7,1067.5 323.0,1067.5 327.4,1067.5 331.7,1067.5 336.0,1067.5 340.3,1067.5 344.7,1067.5 349.0,1067.5 353.3,1067.5 357.7,1067.5 362.0,1067.5 366.3,1067.5 370.7,1067.5 375.0,1067.5 379.3,1067.5 383.7,1067.5 388.0,1067.5 392.3,1067.5 396.6,1067.5 401.0,1067.5 405.3,1067.5 409.6,1067.5 414.0,1067.5 418.3,1067.5 422.6,1067.5 427.0,1067.5 431.3,1067.5 435.6,1067.5 440.0,1067.5 444.3,1067.5 448.6,1067.5 453.0,1067.5 457.3,1067.5 461.6,1067.5 465.9,1067.5 470.3,1067.5 474.6,1067.3 478.9,1066.6 483.3,1071.5 487.6,1071.5 491.9,1071.5 496.3,1071.5 500.6,1071.5 504.9,1071.5 509.3,1071.5 513.6,1071.5 517.9,1071.5 522.3,1071.5 526.6,1071.5 530.9,1071.5 535.2,1071.5 539.6,1071.5 543.9,1071.5 548.2,1071.5 552.6,1068.3 556.9,1068.3 561.2,1068.3 565.6,1068.3 569.9,1070.8 574.2,1070.8 578.6,1068.8 582.9,1070.8 587.2,1070.8 591.6,1068.0 595.9,1037.9 600.2,1032.9 604.5,1031.7 608.9,1026.2 613.2,1027.9 617.5,1026.7 621.9,1022.3 626.2,1027.9 630.5,1021.7 634.9,1025.4 639.2,1022.3 643.5,1030.4 647.9,998.6 652.2,983.2 656.5,983.2 660.9,988.1 665.2,986.9 669.5,988.1 673.8,984.4 678.2,981.9 682.5,979.4 686.8,979.4 691.2,984.4 695.5,988.6 699.8,981.9 704.2,990.1 708.5,982.4 712.8,984.4 717.2,987.6 721.5,981.6 725.8,983.4 730.2,982.4 734.5,981.0 738.8,981.0 743.1,982.0 747.5,984.0 751.8,984.4 756.1,983.4 760.5,985.4 764.8,984.4 769.1,982.4 773.5,979.0 777.8,974.5 782.1,981.0 786.5,983.6 790.8,984.6 795.1,985.6 799.5,987.4 803.8,981.0 808.1,984.6 812.4,986.6 816.8,988.0 821.1,987.4 825.4,987.0 829.8,983.6 834.1,990.5 838.4,994.7 842.8,996.1 847.1,994.7 851.4,989.5 855.8,982.6 860.1,993.7 864.4,989.5 868.8,986.0 873.1,991.5 877.4,986.6 881.8,986.4 886.1,990.1 890.4,983.0 894.7,985.0 899.1,982.4 903.4,987.6 907.7,981.6 912.1,989.1 916.4,987.4 920.7,985.6 925.1,992.5 929.4,986.0 933.7,988.0 938.1,989.5 942.4,981.6 946.7,986.0 951.0,990.1 955.4,980.0 959.7,993.7 964.0,990.5 968.4,993.7 972.7,992.1 977.0,987.4 981.4,992.1 985.7,992.1 990.0,992.1 994.4,988.7 998.7,991.1 1003.0,988.7 1007.4,988.0 1011.7,986.0 1016.0,985.0 1020.3,989.1 1024.7,982.0 1029.0,984.0 1033.3,981.0 1037.7,996.1 1042.0,983.4 1046.3,982.4 1050.7,984.0 1055.0,983.6 1059.3,983.4 1063.7,981.0 1068.0,980.0 1072.3,984.4 1076.7,985.6 1081.0,991.5 1085.3,982.4 1089.7,978.4 1094.0,980.0 1098.3,982.0 1102.6,990.1 1107.0,983.6 1111.3,980.6 1115.6,982.0 1120.0,978.6 1124.3,989.5 1128.6,995.1 1133.0,992.1 1137.3,984.4 1141.6,992.1 1146.0,980.0 1150.3,979.4 1154.6,983.0 1158.9,989.1 1163.3,987.0 1167.6,993.1 1171.9,995.7 1176.3,988.0 1180.6,985.6 1184.9,988.7 1189.3,993.7 1193.6,991.5 1197.9,993.7 1202.3,958.8 1206.6,878.4 1210.9,887.1 1215.3,884.1 1219.6,881.4 1223.9,887.1 1228.2,881.0 1232.6,878.0 1236.9,876.6 1241.2,873.6 1245.6,878.0 1249.9,890.1 1254.2,883.7 1258.6,886.1 1262.9,885.1 1267.2,876.0 1271.6,882.1 1275.9,887.7 1280.2,891.7 1284.6,880.0 1288.9,885.1 1293.2,885.1 1297.5,886.5 1301.9,889.1 1306.2,890.1 1310.5,884.1 1314.9,885.1 1319.2,881.0 1323.5,882.1 1327.9,883.5 1332.2,889.1 1336.5,882.1 1340.9,891.1 1345.2,889.1 1349.5,890.7 1353.9,882.5 1358.2,888.1 1362.5,887.1 1366.8,884.5 1371.2,887.7 1375.5,875.6 1379.8,885.1 1384.2,884.1 1388.5,881.0 1392.8,880.4 1397.2,886.1 1401.5,885.7 1405.8,879.6 1410.2,881.0 1414.5,880.0 1418.8,886.5 1423.2,881.4 1427.5,886.5 1431.8,881.6 1436.1,881.0 1440.5,887.1 1444.8,871.4 1449.1,877.6 1453.5,870.3 1457.8,877.0 1462.1,881.0 1466.5,879.0 1470.8,876.4 1475.1,877.6 1479.5,880.0 1483.8,876.4 1488.1,880.0 1492.5,881.0 1496.8,879.0 1501.1,871.6 1505.5,879.6 1509.8,877.6 1514.1,873.6 1518.4,878.0 1522.8,870.3 1527.1,875.0 1531.4,878.0 1535.8,875.0 1540.1,884.1 1544.4,876.0"/>
<polyline fill="none" stroke="#3E8B68" stroke-width="3.0" stroke-linejoin="round" stroke-linecap="round" points="188.8,968.4 193.1,963.4 197.4,963.1 201.7,962.1 206.1,963.1 210.4,962.2 214.7,961.4 219.1,963.4 223.4,965.1 227.7,961.4 232.1,962.2 236.4,970.1 240.7,968.4 245.1,969.6 249.4,972.6 253.7,973.9 258.1,967.3 262.4,965.4 266.7,964.6 271.0,976.0 275.4,976.8 279.7,971.3 284.0,977.6 288.4,972.1 292.7,966.4 297.0,970.1 301.4,972.6 305.7,970.4 310.0,973.9 314.4,974.8 318.7,973.9 323.0,971.3 327.4,972.6 331.7,972.9 336.0,972.1 340.3,970.4 344.7,970.4 349.0,973.8 353.3,971.3 357.7,971.8 362.0,968.1 366.3,968.1 370.7,973.4 375.0,978.8 379.3,978.1 383.7,979.6 388.0,976.0 392.3,989.3 396.6,989.3 401.0,985.5 405.3,988.0 409.6,987.3 414.0,988.5 418.3,998.9 422.6,998.9 427.0,994.3 431.3,993.5 435.6,998.0 440.0,993.5 444.3,990.5 448.6,993.8 453.0,994.3 457.3,993.5 461.6,1005.2 465.9,994.3 470.3,992.7 474.6,993.6 478.9,998.9 483.3,996.4 487.6,995.3 491.9,994.7 496.3,994.1 500.6,999.9 504.9,996.6 509.3,999.4 513.6,1001.1 517.9,989.4 522.3,998.6 526.6,1001.1 530.9,996.6 535.2,982.2 539.6,994.1 543.9,985.2 548.2,976.0 552.6,978.5 556.9,981.5 561.2,988.1 565.6,978.0 569.9,989.4 574.2,986.9 578.6,991.1 582.9,994.1 587.2,992.7 591.6,987.4 595.9,989.9 600.2,991.1 604.5,988.1 608.9,978.5 613.2,979.7 617.5,973.8 621.9,985.2 626.2,982.2 630.5,979.0 634.9,982.4 639.2,977.4 643.5,974.3 647.9,973.8 652.2,973.5 656.5,978.5 660.9,975.2 665.2,977.7 669.5,984.4 673.8,979.9 678.2,981.0 682.5,983.2 686.8,976.0 691.2,975.2 695.5,969.3 699.8,969.3 704.2,976.3 708.5,978.0 712.8,980.0 717.2,977.6 721.5,975.9 725.8,977.3 730.2,978.4 734.5,978.0 738.8,975.5 743.1,971.3 747.5,975.5 751.8,976.9 756.1,974.5 760.5,972.9 764.8,977.6 769.1,976.5 773.5,971.3 777.8,971.9 782.1,972.5 786.5,964.2 790.8,963.4 795.1,968.9 799.5,970.5 803.8,967.9 808.1,965.4 812.4,972.3 816.8,969.5 821.1,965.2 825.4,967.3 829.8,968.3 834.1,969.3 838.4,971.3 842.8,981.0 847.1,974.9 851.4,971.3 855.8,972.9 860.1,976.5 864.4,972.3 868.8,970.3 873.1,970.5 877.4,968.5 881.8,972.5 886.1,975.5 890.4,970.5 894.7,975.5 899.1,971.9 903.4,972.5 907.7,971.9 912.1,971.3 916.4,973.5 920.7,974.9 925.1,976.9 929.4,981.4 933.7,979.6 938.1,976.9 942.4,978.4 946.7,975.3 951.0,979.4 955.4,976.3 959.7,979.4 964.0,976.9 968.4,975.9 972.7,974.3 977.0,975.5 981.4,983.0 985.7,983.6 990.0,982.0 994.4,981.6 998.7,981.4 1003.0,983.0 1007.4,983.4 1011.7,983.6 1016.0,987.0 1020.3,983.0 1024.7,984.4 1029.0,986.4 1033.3,981.6 1037.7,978.0 1042.0,975.5 1046.3,979.4 1050.7,987.6 1055.0,980.0 1059.3,986.6 1063.7,985.6 1068.0,980.0 1072.3,984.6 1076.7,982.4 1081.0,984.6 1085.3,988.0 1089.7,987.4 1094.0,987.0 1098.3,985.6 1102.6,990.7 1107.0,987.0 1111.3,985.6 1115.6,987.0 1120.0,986.6 1124.3,988.7 1128.6,987.4 1133.0,987.6 1137.3,991.5 1141.6,986.0 1146.0,985.4 1150.3,981.4 1154.6,986.4 1158.9,988.7 1163.3,987.0 1167.6,988.0 1171.9,990.1 1176.3,991.7 1180.6,989.1 1184.9,990.1 1189.3,983.4 1193.6,988.7 1197.9,987.6 1202.3,989.7 1206.6,991.5 1210.9,983.0 1215.3,987.6 1219.6,981.0 1223.9,988.7 1228.2,985.0 1232.6,988.0 1236.9,982.4 1241.2,983.4 1245.6,983.6 1249.9,994.1 1254.2,993.7 1258.6,988.0 1262.9,992.7 1267.2,990.1 1271.6,989.1 1275.9,992.7 1280.2,990.1 1284.6,993.7 1288.9,993.1 1293.2,993.1 1297.5,993.7 1301.9,991.7 1306.2,989.1 1310.5,985.6 1314.9,994.1 1319.2,997.7 1323.5,998.1 1327.9,996.1 1332.2,995.7 1336.5,992.1 1340.9,995.7 1345.2,997.1 1349.5,995.1 1353.9,993.7 1358.2,993.1 1362.5,997.1 1366.8,998.1 1371.2,995.7 1375.5,995.1 1379.8,994.7 1384.2,990.7 1388.5,998.1 1392.8,989.1 1397.2,990.1 1401.5,986.4 1405.8,983.6 1410.2,976.9 1414.5,981.4 1418.8,983.0 1423.2,983.4 1427.5,987.4 1431.8,977.3 1436.1,984.4 1440.5,982.6 1444.8,982.4 1449.1,984.4 1453.5,988.7 1457.8,988.0 1462.1,990.1 1466.5,989.1 1470.8,986.6 1475.1,993.7 1479.5,988.0 1483.8,989.1 1488.1,995.7 1492.5,993.1 1496.8,990.1 1501.1,991.1 1505.5,990.1 1509.8,988.0 1514.1,988.0 1518.4,988.7 1522.8,989.1 1527.1,990.1 1531.4,987.4 1535.8,993.1 1540.1,991.1 1544.4,986.4"/>
<polyline fill="none" stroke="#B93634" stroke-width="3.0" stroke-linejoin="round" stroke-linecap="round" points="188.8,785.1 193.1,794.3 197.4,801.0 201.7,792.6 206.1,787.6 210.4,807.7 214.7,788.8 219.1,796.5 223.4,791.8 227.7,787.6 232.1,780.9 236.4,786.5 240.7,779.8 245.1,782.6 249.4,780.4 253.7,772.9 258.1,780.4 262.4,780.1 266.7,786.5 271.0,775.4 275.4,783.4 279.7,769.2 284.0,777.6 288.4,775.9 292.7,776.8 297.0,779.8 301.4,764.2 305.7,779.8 310.0,777.1 314.4,783.4 318.7,790.5 323.0,790.5 327.4,793.5 331.7,776.8 336.0,792.6 340.3,788.5 344.7,786.8 349.0,795.5 353.3,771.2 357.7,779.8 362.0,767.2 366.3,785.5 370.7,785.5 375.0,788.5 379.3,790.5 383.7,784.6 388.0,788.1 392.3,780.9 396.6,788.5 401.0,792.6 405.3,779.3 409.6,798.5 414.0,801.0 418.3,794.3 422.6,802.2 427.0,799.3 431.3,798.5 435.6,798.5 440.0,804.8 444.3,802.7 448.6,810.5 453.0,803.5 457.3,805.5 461.6,801.0 465.9,808.5 470.3,806.0 474.6,814.4 478.9,817.2 483.3,809.4 487.6,802.2 491.9,811.0 496.3,808.0 500.6,814.4 504.9,811.5 509.3,803.8 513.6,810.2 517.9,809.7 522.3,811.9 526.6,828.9 530.9,819.4 535.2,809.7 539.6,809.7 543.9,809.7 548.2,804.8 552.6,806.5 556.9,808.5 561.2,812.4 565.6,810.5 569.9,813.2 574.2,813.2 578.6,800.2 582.9,814.4 587.2,833.6 591.6,813.5 595.9,836.1 600.2,834.1 604.5,844.5 608.9,840.3 613.2,834.9 617.5,820.2 621.9,831.9 626.2,825.6 630.5,828.9 634.9,826.6 639.2,825.3 643.5,821.9 647.9,824.4 652.2,823.2 656.5,821.9 660.9,838.6 665.2,810.5 669.5,817.2 673.8,826.6 678.2,827.3 682.5,822.7 686.8,823.6 691.2,823.2 695.5,817.7 699.8,823.6 704.2,822.5 708.5,827.9 712.8,822.5 717.2,823.1 721.5,820.9 725.8,816.8 730.2,827.1 734.5,831.2 738.8,831.6 743.1,829.2 747.5,827.9 751.8,817.8 756.1,833.6 760.5,829.2 764.8,834.6 769.1,823.5 773.5,830.6 777.8,840.3 782.1,838.2 786.5,835.6 790.8,838.6 795.1,828.6 799.5,842.1 803.8,839.3 808.1,849.7 812.4,852.8 816.8,850.2 821.1,842.7 825.4,847.7 829.8,842.1 834.1,835.0 838.4,847.7 842.8,860.5 847.1,856.4 851.4,840.1 855.8,842.7 860.1,848.7 864.4,853.4 868.8,854.8 873.1,858.2 877.4,847.7 881.8,843.7 886.1,839.0 890.4,846.3 894.7,860.5 899.1,846.7 903.4,856.4 907.7,855.8 912.1,850.8 916.4,858.2 920.7,847.7 925.1,843.7 929.4,849.7 933.7,851.2 938.1,847.7 942.4,847.3 946.7,831.6 951.0,831.0 955.4,838.0 959.7,842.7 964.0,838.2 968.4,834.2 972.7,837.2 977.0,838.0 981.4,841.1 985.7,835.6 990.0,840.1 994.4,848.7 998.7,835.6 1003.0,836.6 1007.4,843.7 1011.7,846.3 1016.0,849.1 1020.3,846.3 1024.7,849.1 1029.0,845.7 1033.3,839.7 1037.7,846.3 1042.0,839.7 1046.3,841.7 1050.7,841.7 1055.0,842.1 1059.3,839.7 1063.7,847.3 1068.0,839.0 1072.3,851.2 1076.7,851.8 1081.0,852.2 1085.3,856.8 1089.7,853.4 1094.0,853.8 1098.3,849.7 1102.6,848.1 1107.0,843.1 1111.3,844.3 1115.6,844.3 1120.0,848.7 1124.3,845.3 1128.6,852.8 1133.0,846.7 1137.3,842.7 1141.6,848.7 1146.0,848.7 1150.3,844.3 1154.6,840.1 1158.9,844.3 1163.3,836.6 1167.6,836.0 1171.9,831.6 1176.3,836.6 1180.6,846.3 1184.9,839.3 1189.3,838.0 1193.6,827.5 1197.9,831.6 1202.3,828.6 1206.6,813.4 1210.9,808.4 1215.3,817.4 1219.6,813.0 1223.9,829.2 1228.2,816.4 1232.6,811.8 1236.9,819.1 1241.2,826.5 1245.6,817.4 1249.9,824.5 1254.2,828.6 1258.6,827.5 1262.9,832.2 1267.2,821.9 1271.6,817.4 1275.9,826.1 1280.2,819.1 1284.6,811.8 1288.9,816.4 1293.2,814.4 1297.5,822.1 1301.9,829.2 1306.2,816.0 1310.5,826.1 1314.9,817.8 1319.2,808.4 1323.5,806.3 1327.9,816.8 1332.2,814.4 1336.5,818.5 1340.9,816.4 1345.2,803.3 1349.5,802.3 1353.9,806.3 1358.2,819.1 1362.5,812.4 1366.8,812.4 1371.2,797.3 1375.5,806.3 1379.8,815.4 1384.2,802.3 1388.5,789.6 1392.8,805.7 1397.2,804.7 1401.5,805.3 1405.8,812.4 1410.2,798.3 1414.5,783.7 1418.8,801.7 1423.2,797.3 1427.5,792.2 1431.8,787.2 1436.1,778.7 1440.5,781.5 1444.8,794.2 1449.1,792.2 1453.5,791.2 1457.8,796.9 1462.1,783.7 1466.5,785.7 1470.8,791.8 1475.1,791.8 1479.5,784.7 1483.8,784.1 1488.1,780.1 1492.5,781.1 1496.8,782.1 1501.1,782.7 1505.5,779.1 1509.8,801.7 1514.1,797.3 1518.4,790.2 1522.8,786.8 1527.1,780.5 1531.4,784.5 1535.8,791.2 1540.1,781.5 1544.4,792.2"/>
<polyline fill="none" stroke="#6EB5F2" stroke-width="3.0" stroke-linejoin="round" stroke-linecap="round" points="188.8,1072.1 193.1,1072.1 197.4,1072.1 201.7,1072.1 206.1,1065.4 210.4,1062.9 214.7,1063.1 219.1,1063.3 223.4,1063.5 227.7,1063.7 232.1,1062.9 236.4,1063.7 240.7,1062.9 245.1,1062.9 249.4,1062.9 253.7,1062.9 258.1,1062.9 262.4,1062.9 266.7,1062.9 271.0,1062.9 275.4,1062.9 279.7,1062.9 284.0,1066.6 288.4,1062.9 292.7,1063.7 297.0,1062.9 301.4,1062.9 305.7,1062.9 310.0,1063.4 314.4,1058.4 318.7,1059.6 323.0,1059.2 327.4,1062.9 331.7,1061.7 336.0,1062.9 340.3,1063.2 344.7,1063.2 349.0,1062.9 353.3,1059.9 357.7,1063.7 362.0,1067.4 366.3,1067.6 370.7,1067.6 375.0,1067.6 379.3,1067.6 383.7,1067.6 388.0,1067.6 392.3,1067.6 396.6,1067.6 401.0,1067.6 405.3,1067.6 409.6,1067.6 414.0,1067.6 418.3,1067.6 422.6,1067.6 427.0,1064.6 431.3,1063.4 435.6,1062.1 440.0,1058.4 444.3,1060.9 448.6,1062.9 453.0,1064.6 457.3,1067.6 461.6,1067.6 465.9,1067.6 470.3,1068.0 474.6,1066.8 478.9,1060.1 483.3,1063.0 487.6,1059.1 491.9,1058.8 496.3,1058.0 500.6,1057.6 504.9,1054.6 509.3,1053.3 513.6,1053.3 517.9,1053.3 522.3,1053.3 526.6,1054.1 530.9,1054.6 535.2,1058.0 539.6,1058.0 543.9,1058.0 548.2,1058.0 552.6,1062.5 556.9,1063.0 561.2,1063.0 565.6,1065.5 569.9,1067.7 574.2,1068.0 578.6,1068.0 582.9,1068.0 587.2,1068.0 591.6,1068.0 595.9,1068.0 600.2,1068.0 604.5,1068.0 608.9,1068.0 613.2,1066.7 617.5,1063.0 621.9,1063.0 626.2,1067.5 630.5,1068.0 634.9,1068.0 639.2,1068.0 643.5,1068.0 647.9,1066.8 652.2,1068.0 656.5,1068.0 660.9,1068.0 665.2,1068.0 669.5,1068.0 673.8,1068.0 678.2,1068.0 682.5,1068.0 686.8,1068.0 691.2,1071.8 695.5,1071.8 699.8,1071.8 704.2,1071.8 708.5,1071.8 712.8,1071.8 717.2,1071.8 721.5,1071.8 725.8,1071.8 730.2,1071.8 734.5,1071.8 738.8,1071.8 743.1,1071.8 747.5,1071.8 751.8,1071.8 756.1,1071.8 760.5,1071.8 764.8,1071.8 769.1,1071.8 773.5,1071.8 777.8,1071.5 782.1,1071.5 786.5,1071.5 790.8,1071.5 795.1,1071.5 799.5,1071.5 803.8,1071.5 808.1,1071.5 812.4,1071.5 816.8,1071.5 821.1,1071.5 825.4,1071.5 829.8,1071.5 834.1,1071.5 838.4,1071.5 842.8,1071.5 847.1,1071.5 851.4,1071.5 855.8,1071.5 860.1,1071.5 864.4,1071.5 868.8,1071.5 873.1,1071.5 877.4,1071.5 881.8,1071.5 886.1,1071.5 890.4,1071.5 894.7,1067.0 899.1,1071.5 903.4,1071.5 907.7,1071.5 912.1,1071.5 916.4,1071.5 920.7,1071.5 925.1,1068.5 929.4,1067.0 933.7,1068.5 938.1,1071.5 942.4,1071.5 946.7,1071.5 951.0,1069.0 955.4,1071.5 959.7,1071.5 964.0,1071.5 968.4,1071.5 972.7,1071.5 977.0,1071.5 981.4,1071.5 985.7,1071.5 990.0,1071.5 994.4,1071.5 998.7,1071.5 1003.0,1071.5 1007.4,1071.5 1011.7,1067.6 1016.0,1067.6 1020.3,1067.6 1024.7,1067.6 1029.0,1067.6 1033.3,1067.6 1037.7,1067.6 1042.0,1067.6 1046.3,1067.6 1050.7,1071.5 1055.0,1071.5 1059.3,1071.5 1063.7,1071.5 1068.0,1071.5 1072.3,1071.5 1076.7,1071.5 1081.0,1071.5 1085.3,1071.5 1089.7,1071.5 1094.0,1071.5 1098.3,1071.5 1102.6,1071.5 1107.0,1071.5 1111.3,1071.5 1115.6,1071.5 1120.0,1071.5 1124.3,1071.5 1128.6,1071.5 1133.0,1071.5 1137.3,1071.5 1141.6,1071.5 1146.0,1071.5 1150.3,1071.5 1154.6,1071.5 1158.9,1071.5 1163.3,1071.5 1167.6,1071.5 1171.9,1071.5 1176.3,1071.5 1180.6,1071.5 1184.9,1071.5 1189.3,1071.5 1193.6,1071.5 1197.9,1071.5 1202.3,1071.5 1206.6,1071.5 1210.9,1071.5 1215.3,1071.5 1219.6,1071.5 1223.9,1071.5 1228.2,1071.5 1232.6,1071.5 1236.9,1071.5 1241.2,1071.5 1245.6,1071.5 1249.9,1071.5 1254.2,1071.5 1258.6,1071.5 1262.9,1071.5 1267.2,1071.5 1271.6,1071.5 1275.9,1071.5 1280.2,1071.5 1284.6,1071.5 1288.9,1071.5 1293.2,1071.5 1297.5,1071.5 1301.9,1071.5 1306.2,1071.5 1310.5,1071.5 1314.9,1071.5 1319.2,1071.5 1323.5,1071.5 1327.9,1071.5 1332.2,1071.5 1336.5,1071.5 1340.9,1071.5 1345.2,1071.5 1349.5,1071.5 1353.9,1071.5 1358.2,1071.5 1362.5,1071.5 1366.8,1071.5 1371.2,1071.5 1375.5,1071.5 1379.8,1071.5 1384.2,1071.5 1388.5,1071.5 1392.8,1071.5 1397.2,1071.5 1401.5,1071.5 1405.8,1071.5 1410.2,1071.5 1414.5,1067.3 1418.8,1067.3 1423.2,1071.5 1427.5,1071.5 1431.8,1071.5 1436.1,1071.5 1440.5,1071.5 1444.8,1071.5 1449.1,1071.5 1453.5,1071.5 1457.8,1071.5 1462.1,1071.5 1466.5,1071.5 1470.8,1071.5 1475.1,1071.5 1479.5,1071.5 1483.8,1071.5 1488.1,1071.5 1492.5,1071.5 1496.8,1071.5 1501.1,1071.5 1505.5,1071.5 1509.8,1071.5 1514.1,1071.5 1518.4,1071.5 1522.8,1071.5 1527.1,1071.5 1531.4,1071.5 1535.8,1071.5 1540.1,1071.5 1544.4,1071.5"/>
<polyline fill="none" stroke="#F09444" stroke-width="3.0" stroke-linejoin="round" stroke-linecap="round" points="188.8,1049.5 193.1,1051.2 197.4,1049.5 201.7,1045.4 206.1,1049.9 210.4,1051.2 214.7,1053.4 219.1,1055.9 223.4,1052.0 227.7,1052.0 232.1,1051.2 236.4,1052.9 240.7,1050.4 245.1,1050.9 249.4,1047.0 253.7,1049.9 258.1,1052.0 262.4,1054.0 266.7,1050.4 271.0,1051.2 275.4,1052.0 279.7,1052.0 284.0,1051.2 288.4,1052.0 292.7,1050.4 297.0,1055.1 301.4,1055.1 305.7,1054.5 310.0,1051.2 314.4,1051.5 318.7,1053.2 323.0,1054.2 327.4,1051.2 331.7,1051.2 336.0,1050.4 340.3,1053.2 344.7,1054.5 349.0,1052.0 353.3,1050.4 357.7,1051.2 362.0,1049.5 366.3,1049.2 370.7,1045.4 375.0,1046.2 379.3,1044.5 383.7,1042.0 388.0,1043.3 392.3,1040.3 396.6,1046.2 401.0,1045.4 405.3,1045.7 409.6,1049.9 414.0,1052.4 418.3,1055.9 422.6,1055.1 427.0,1055.1 431.3,1053.4 435.6,1053.4 440.0,1057.6 444.3,1050.4 448.6,1051.5 453.0,1050.4 457.3,1053.4 461.6,1053.4 465.9,1011.9 470.3,970.1 474.6,974.3 478.9,977.7 483.3,977.4 487.6,983.5 491.9,993.6 496.3,993.2 500.6,997.8 504.9,997.8 509.3,1007.0 513.6,1008.6 517.9,1010.3 522.3,1015.3 526.6,1023.3 530.9,1015.3 535.2,1011.6 539.6,1012.8 543.9,1011.6 548.2,1014.5 552.6,1018.3 556.9,1016.5 561.2,1022.0 565.6,1023.3 569.9,1018.7 574.2,1024.5 578.6,1017.5 582.9,1012.8 587.2,1011.6 591.6,1017.5 595.9,1025.4 600.2,1019.8 604.5,1035.1 608.9,1012.8 613.2,1003.6 617.5,1007.0 621.9,1014.8 626.2,1012.8 630.5,1000.6 634.9,1001.9 639.2,1001.4 643.5,1005.3 647.9,1016.7 652.2,983.5 656.5,998.6 660.9,1004.9 665.2,998.6 669.5,1005.8 673.8,1003.6 678.2,1005.3 682.5,1002.8 686.8,1005.3 691.2,1011.1 695.5,1008.6 699.8,1007.3 704.2,1008.6 708.5,1014.0 712.8,1005.0 717.2,908.3 721.5,985.8 725.8,806.3 730.2,858.8 734.5,830.2 738.8,875.4 743.1,883.1 747.5,855.8 751.8,842.7 756.1,854.8 760.5,863.3 764.8,868.9 769.1,870.3 773.5,875.0 777.8,874.0 782.1,880.0 786.5,879.0 790.8,904.3 795.1,889.5 799.5,899.2 803.8,896.8 808.1,905.3 812.4,911.3 816.8,893.2 821.1,920.4 825.4,906.3 829.8,900.2 834.1,906.3 838.4,921.4 842.8,957.4 847.1,944.6 851.4,873.0 855.8,847.3 860.1,867.5 864.4,859.8 868.8,856.4 873.1,861.3 877.4,882.1 881.8,879.0 886.1,894.8 890.4,929.5 894.7,926.5 899.1,925.5 903.4,922.8 907.7,925.5 912.1,914.0 916.4,916.4 920.7,918.8 925.1,901.6 929.4,923.4 933.7,892.8 938.1,880.0 942.4,829.2 946.7,830.0 951.0,843.7 955.4,856.4 959.7,851.4 964.0,865.5 968.4,864.5 972.7,863.3 977.0,881.0 981.4,855.4 985.7,873.4 990.0,871.6 994.4,878.4 998.7,846.7 1003.0,854.8 1007.4,855.4 1011.7,846.3 1016.0,847.1 1020.3,837.6 1024.7,837.6 1029.0,842.3 1033.3,847.1 1037.7,845.3 1042.0,835.0 1046.3,839.7 1050.7,837.2 1055.0,834.2 1059.3,869.5 1063.7,858.8 1068.0,852.8 1072.3,849.3 1076.7,866.5 1081.0,845.3 1085.3,869.5 1089.7,856.4 1094.0,854.8 1098.3,862.3 1102.6,862.3 1107.0,865.5 1111.3,862.9 1115.6,860.9 1120.0,852.8 1124.3,873.6 1128.6,866.9 1133.0,877.6 1137.3,877.6 1141.6,854.8 1146.0,858.2 1150.3,857.2 1154.6,862.3 1158.9,887.1 1163.3,865.5 1167.6,875.0 1171.9,860.9 1176.3,886.7 1180.6,847.1 1184.9,877.4 1189.3,877.0 1193.6,882.1 1197.9,880.6 1202.3,858.2 1206.6,864.3 1210.9,870.3 1215.3,849.3 1219.6,850.2 1223.9,857.4 1228.2,860.9 1232.6,845.3 1236.9,851.4 1241.2,839.0 1245.6,844.7 1249.9,849.3 1254.2,873.6 1258.6,870.9 1262.9,856.8 1267.2,835.6 1271.6,852.2 1275.9,841.7 1280.2,830.0 1284.6,838.0 1288.9,850.2 1293.2,853.8 1297.5,859.8 1301.9,860.9 1306.2,851.4 1310.5,851.4 1314.9,841.7 1319.2,830.2 1323.5,844.7 1327.9,817.8 1332.2,832.2 1336.5,833.0 1340.9,832.2 1345.2,829.6 1349.5,829.2 1353.9,833.0 1358.2,828.1 1362.5,815.4 1366.8,797.3 1371.2,825.9 1375.5,818.5 1379.8,832.0 1384.2,818.1 1388.5,821.5 1392.8,826.9 1397.2,829.2 1401.5,834.2 1405.8,830.0 1410.2,841.7 1414.5,853.2 1418.8,830.6 1423.2,819.1 1427.5,818.1 1431.8,818.5 1436.1,843.7 1440.5,828.6 1444.8,839.7 1449.1,830.2 1453.5,821.5 1457.8,825.9 1462.1,824.1 1466.5,824.5 1470.8,847.3 1475.1,817.4 1479.5,804.3 1483.8,808.4 1488.1,819.1 1492.5,804.3 1496.8,809.8 1501.1,788.6 1505.5,779.1 1509.8,799.9 1514.1,799.3 1518.4,797.3 1522.8,814.4 1527.1,802.3 1531.4,798.3 1535.8,799.9 1540.1,793.8 1544.4,793.6"/>
<polyline fill="none" stroke="#4B505A" stroke-width="3.0" stroke-linejoin="round" stroke-linecap="round" points="188.8,1069.9 193.1,1070.7 197.4,1068.6 201.7,1070.2 206.1,1069.4 210.4,1070.4 214.7,1070.2 219.1,1070.2 223.4,1070.2 227.7,1070.7 232.1,1066.2 236.4,1068.5 240.7,1071.1 245.1,1068.6 249.4,1070.2 253.7,1070.4 258.1,1070.2 262.4,1070.4 266.7,1071.1 271.0,1069.9 275.4,1070.2 279.7,1071.1 284.0,1070.2 288.4,1070.2 292.7,1070.2 297.0,1069.4 301.4,1070.2 305.7,1070.2 310.0,1070.2 314.4,1070.2 318.7,1070.4 323.0,1070.4 327.4,1070.2 331.7,1070.2 336.0,1069.9 340.3,1070.7 344.7,1070.4 349.0,1068.6 353.3,1068.0 357.7,1070.2 362.0,1070.4 366.3,1071.1 370.7,1069.9 375.0,1070.2 379.3,1070.7 383.7,1071.1 388.0,1070.2 392.3,1070.2 396.6,1069.9 401.0,1070.2 405.3,1068.0 409.6,1069.9 414.0,1070.2 418.3,1070.7 422.6,1070.2 427.0,1069.9 431.3,1070.7 435.6,1069.9 440.0,1069.4 444.3,1070.7 448.6,1070.2 453.0,1069.4 457.3,1069.4 461.6,1070.2 465.9,1070.2 470.3,1069.9 474.6,1071.0 478.9,1070.7 483.3,1069.3 487.6,1071.0 491.9,1068.6 496.3,1071.0 500.6,1070.7 504.9,1068.0 509.3,1067.5 513.6,1068.5 517.9,1066.0 522.3,1067.2 526.6,1069.7 530.9,1068.3 535.2,1067.2 539.6,1066.7 543.9,1067.5 548.2,1068.5 552.6,1069.3 556.9,1068.8 561.2,1069.7 565.6,1070.0 569.9,1067.2 574.2,1069.3 578.6,1066.8 582.9,1069.3 587.2,1068.3 591.6,1067.2 595.9,1068.8 600.2,1070.0 604.5,1070.5 608.9,1071.0 613.2,1071.3 617.5,1070.5 621.9,1068.8 626.2,1069.3 630.5,1070.5 634.9,1070.5 639.2,1070.0 643.5,1069.7 647.9,1069.3 652.2,1068.8 656.5,1069.3 660.9,1069.3 665.2,1068.8 669.5,1067.5 673.8,1069.3 678.2,1068.0 682.5,1069.7 686.8,1071.0 691.2,1071.3 695.5,1071.3 699.8,1070.5 704.2,1071.3 708.5,1071.0 712.8,1070.0 717.2,1070.5 721.5,1068.8 725.8,1070.0 730.2,1068.5 734.5,1068.0 738.8,1067.2 743.1,1069.3 747.5,1068.0 751.8,1070.0 756.1,1068.5 760.5,1070.0 764.8,1069.3 769.1,1070.7 773.5,1070.2 777.8,1070.2 782.1,1067.6 786.5,1069.9 790.8,1067.8 795.1,1067.0 799.5,1066.4 803.8,1065.4 808.1,1069.0 812.4,1069.4 816.8,1070.7 821.1,1069.4 825.4,1069.9 829.8,1067.8 834.1,1069.4 838.4,1071.1 842.8,1070.2 847.1,1070.2 851.4,1071.1 855.8,1067.6 860.1,1067.2 864.4,1067.6 868.8,1070.7 873.1,1068.2 877.4,1070.2 881.8,1068.4 886.1,1069.9 890.4,1068.6 894.7,1068.6 899.1,1068.6 903.4,1070.7 907.7,1070.2 912.1,1070.7 916.4,1070.2 920.7,1069.9 925.1,1070.7 929.4,1068.6 933.7,1069.9 938.1,1069.4 942.4,1069.9 946.7,1071.8 951.0,1071.8 955.4,1071.8 959.7,1071.8 964.0,1071.8 968.4,1071.8 972.7,1071.8 977.0,1071.8 981.4,1069.9 985.7,1069.4 990.0,1069.9 994.4,1068.6 998.7,1070.7 1003.0,1070.7 1007.4,1069.9 1011.7,1070.7 1016.0,1071.1 1020.3,1070.7 1024.7,1070.2 1029.0,1069.4 1033.3,1070.7 1037.7,1070.7 1042.0,1068.6 1046.3,1070.2 1050.7,1068.6 1055.0,1070.2 1059.3,1070.4 1063.7,1070.7 1068.0,1069.4 1072.3,1069.9 1076.7,1070.2 1081.0,1071.1 1085.3,1070.2 1089.7,1068.6 1094.0,1071.1 1098.3,1069.9 1102.6,1068.6 1107.0,1069.9 1111.3,1070.2 1115.6,1070.4 1120.0,1070.2 1124.3,1069.4 1128.6,1070.2 1133.0,1070.4 1137.3,1070.2 1141.6,1070.2 1146.0,1069.4 1150.3,1070.4 1154.6,1070.2 1158.9,1070.2 1163.3,1070.2 1167.6,1070.2 1171.9,1065.8 1176.3,1065.0 1180.6,1065.8 1184.9,1065.0 1189.3,1065.8 1193.6,1065.0 1197.9,1065.8 1202.3,1065.0 1206.6,1065.8 1210.9,1065.0 1215.3,1065.8 1219.6,1070.4 1223.9,1070.4 1228.2,1070.7 1232.6,1070.2 1236.9,1070.7 1241.2,1071.1 1245.6,1069.9 1249.9,1071.1 1254.2,1070.2 1258.6,1068.6 1262.9,1070.7 1267.2,1070.2 1271.6,1068.6 1275.9,1069.9 1280.2,1070.2 1284.6,1069.9 1288.9,1068.6 1293.2,1068.6 1297.5,1070.7 1301.9,1069.9 1306.2,1070.7 1310.5,1070.2 1314.9,1071.1 1319.2,1071.1 1323.5,1068.6 1327.9,1070.7 1332.2,1069.4 1336.5,1070.2 1340.9,1070.2 1345.2,1071.1 1349.5,1069.4 1353.9,1070.4 1358.2,1070.2 1362.5,1070.2 1366.8,1070.7 1371.2,1070.2 1375.5,1071.1 1379.8,1070.2 1384.2,1070.7 1388.5,1068.6 1392.8,1070.2 1397.2,1070.7 1401.5,1071.1 1405.8,1071.1 1410.2,1071.1 1414.5,1070.4 1418.8,1069.4 1423.2,1069.9 1427.5,1069.4 1431.8,1071.1 1436.1,1071.1 1440.5,1070.2 1444.8,1069.9 1449.1,1069.9 1453.5,1069.4 1457.8,1069.9 1462.1,1071.1 1466.5,1070.2 1470.8,1070.7 1475.1,1069.9 1479.5,1069.4 1483.8,1069.9 1488.1,1070.2 1492.5,1069.4 1496.8,1070.2 1501.1,1070.2 1505.5,1069.4 1509.8,1070.4 1514.1,1069.9 1518.4,1070.2 1522.8,1070.2 1527.1,1071.1 1531.4,1070.2 1535.8,1069.4 1540.1,1068.6 1544.4,1068.6"/>
<polyline fill="none" stroke="#3A86C4" stroke-width="3.0" stroke-linejoin="round" stroke-linecap="round" points="188.8,1072.3 193.1,1072.3 197.4,1072.3 201.7,1072.3 206.1,1072.3 210.4,1072.3 214.7,1072.3 219.1,1072.3 223.4,1072.3 227.7,1072.3 232.1,1072.3 236.4,1072.3 240.7,1072.3 245.1,1072.3 249.4,1072.3 253.7,1072.3 258.1,1072.3 262.4,1072.3 266.7,1072.3 271.0,1072.3 275.4,1072.3 279.7,1072.3 284.0,1072.3 288.4,1072.3 292.7,1072.3 297.0,1072.3 301.4,1072.3 305.7,1072.3 310.0,1072.3 314.4,1072.3 318.7,1072.3 323.0,1072.3 327.4,1072.3 331.7,1072.3 336.0,1072.3 340.3,1072.3 344.7,1072.3 349.0,1072.3 353.3,1072.3 357.7,1072.3 362.0,1072.3 366.3,1072.3 370.7,1072.3 375.0,1072.3 379.3,1072.3 383.7,1072.3 388.0,1072.3 392.3,1072.3 396.6,1072.3 401.0,1072.3 405.3,1072.3 409.6,1072.3 414.0,1072.3 418.3,1072.3 422.6,1072.3 427.0,1072.3 431.3,1072.3 435.6,1072.3 440.0,1072.3 444.3,1072.3 448.6,1072.3 453.0,1072.3 457.3,1072.3 461.6,1072.3 465.9,1072.3 470.3,1072.3 474.6,1072.3 478.9,1072.3 483.3,1072.3 487.6,1072.3 491.9,1072.3 496.3,1072.3 500.6,1072.3 504.9,1072.3 509.3,1072.3 513.6,1072.3 517.9,1072.3 522.3,1072.3 526.6,1072.3 530.9,1072.3 535.2,1072.3 539.6,1072.3 543.9,1072.3 548.2,1072.3 552.6,1072.3 556.9,1072.3 561.2,1072.3 565.6,1072.3 569.9,1072.3 574.2,1072.3 578.6,1072.3 582.9,1072.3 587.2,1072.3 591.6,1072.3 595.9,1072.3 600.2,1072.3 604.5,1072.3 608.9,1072.3 613.2,1072.3 617.5,1072.3 621.9,1072.3 626.2,1072.3 630.5,1072.3 634.9,1072.3 639.2,1072.3 643.5,1072.3 647.9,1072.3 652.2,1072.3 656.5,1072.3 660.9,1072.3 665.2,1072.3 669.5,1072.3 673.8,1072.3 678.2,1072.3 682.5,1072.3 686.8,1072.3 691.2,1072.3 695.5,1072.3 699.8,1072.3 704.2,1072.3 708.5,1072.3 712.8,1072.3 717.2,1072.3 721.5,1072.3 725.8,1072.3 730.2,1072.3 734.5,1072.3 738.8,1072.3 743.1,1072.3 747.5,1072.3 751.8,1072.3 756.1,1072.3 760.5,1072.3 764.8,1072.3 769.1,1072.3 773.5,1072.3 777.8,1072.3 782.1,1072.3 786.5,1072.3 790.8,1072.3 795.1,1072.3 799.5,1072.3 803.8,1072.3 808.1,1072.3 812.4,1072.3 816.8,1072.3 821.1,1072.3 825.4,1072.3 829.8,1072.3 834.1,1072.3 838.4,1072.3 842.8,1072.3 847.1,1072.3 851.4,1072.3 855.8,1072.3 860.1,1072.3 864.4,1072.3 868.8,1072.3 873.1,1072.3 877.4,1072.3 881.8,1072.3 886.1,1072.3 890.4,1072.3 894.7,1072.3 899.1,1072.3 903.4,1072.3 907.7,1072.3 912.1,1072.3 916.4,1072.3 920.7,1072.3 925.1,1072.3 929.4,1072.3 933.7,1072.3 938.1,1072.3 942.4,1072.3 946.7,1072.3 951.0,1072.3 955.4,1072.3 959.7,1072.3 964.0,1072.3 968.4,1072.3 972.7,1072.3 977.0,1072.3 981.4,1072.3 985.7,1072.3 990.0,1072.3 994.4,1072.3 998.7,1072.3 1003.0,1072.3 1007.4,1072.3 1011.7,1072.3 1016.0,1072.3 1020.3,1072.3 1024.7,1072.3 1029.0,1072.3 1033.3,1072.3 1037.7,1072.3 1042.0,1072.3 1046.3,1072.3 1050.7,1072.3 1055.0,1072.3 1059.3,1072.3 1063.7,1072.3 1068.0,1072.3 1072.3,1072.3 1076.7,1072.3 1081.0,1072.3 1085.3,1072.3 1089.7,1072.3 1094.0,1072.3 1098.3,1072.3 1102.6,1072.3 1107.0,1072.3 1111.3,1072.3 1115.6,1072.3 1120.0,1072.3 1124.3,1072.3 1128.6,1072.3 1133.0,1072.3 1137.3,1072.3 1141.6,1072.3 1146.0,1072.3 1150.3,1072.3 1154.6,1072.3 1158.9,1072.3 1163.3,1072.3 1167.6,1072.3 1171.9,1072.3 1176.3,1072.3 1180.6,1072.3 1184.9,1072.3 1189.3,1072.3 1193.6,1072.3 1197.9,1072.3 1202.3,1072.3 1206.6,1072.3 1210.9,1072.3 1215.3,1072.3 1219.6,1072.3 1223.9,1072.3 1228.2,1072.3 1232.6,1072.3 1236.9,1072.3 1241.2,1072.3 1245.6,1072.3 1249.9,1072.3 1254.2,1072.3 1258.6,1072.3 1262.9,1072.3 1267.2,1072.3 1271.6,1072.3 1275.9,1072.3 1280.2,1072.3 1284.6,1072.3 1288.9,1072.3 1293.2,1072.3 1297.5,1072.3 1301.9,1072.3 1306.2,1072.3 1310.5,1072.3 1314.9,1072.3 1319.2,1072.3 1323.5,1072.3 1327.9,1072.3 1332.2,1072.3 1336.5,1072.3 1340.9,1072.3 1345.2,1072.3 1349.5,1072.3 1353.9,1072.3 1358.2,1072.3 1362.5,1072.3 1366.8,1072.3 1371.2,1072.3 1375.5,1072.3 1379.8,1072.3 1384.2,1072.3 1388.5,1072.3 1392.8,1072.3 1397.2,1072.3 1401.5,1072.3 1405.8,1072.3 1410.2,1072.3 1414.5,1072.3 1418.8,1072.3 1423.2,1072.3 1427.5,1072.3 1431.8,1072.3 1436.1,1072.3 1440.5,1072.3 1444.8,1072.3 1449.1,1072.3 1453.5,1072.3 1457.8,1072.3 1462.1,1072.3 1466.5,1072.3 1470.8,1072.3 1475.1,1072.3 1479.5,1072.3 1483.8,1072.3 1488.1,1072.3 1492.5,1072.3 1496.8,1072.3 1501.1,1072.3 1505.5,1072.3 1509.8,1072.3 1514.1,1072.3 1518.4,1072.3 1522.8,1072.3 1527.1,1072.3 1531.4,1072.3 1535.8,1072.3 1540.1,1072.3 1544.4,1072.3"/>
<text x="111.3" y="137.4" font-size="12.2" fill="#5e5e5e" text-anchor="end" font-weight="normal" textLength="18.7" lengthAdjust="spacingAndGlyphs" stroke="#5e5e5e" stroke-width="0.2">300</text>
<text x="111.3" y="222.4" font-size="12.2" fill="#5e5e5e" text-anchor="end" font-weight="normal" textLength="18.7" lengthAdjust="spacingAndGlyphs" stroke="#5e5e5e" stroke-width="0.2">200</text>
<text x="111.3" y="307.4" font-size="12.2" fill="#5e5e5e" text-anchor="end" font-weight="normal" textLength="18.7" lengthAdjust="spacingAndGlyphs" stroke="#5e5e5e" stroke-width="0.2">100</text>
<text x="111.3" y="392.4" font-size="12.2" fill="#5e5e5e" text-anchor="end" font-weight="normal" textLength="6.2" lengthAdjust="spacingAndGlyphs" stroke="#5e5e5e" stroke-width="0.2">0</text>
<text x="111.4" y="474.4" font-size="12.2" fill="#5e5e5e" text-anchor="end" font-weight="normal" textLength="13.2" lengthAdjust="spacingAndGlyphs" stroke="#5e5e5e" stroke-width="0.2">8K</text>
<text x="111.4" y="544.4" font-size="12.2" fill="#5e5e5e" text-anchor="end" font-weight="normal" textLength="13.2" lengthAdjust="spacingAndGlyphs" stroke="#5e5e5e" stroke-width="0.2">6K</text>
<text x="111.4" y="613.4" font-size="12.2" fill="#5e5e5e" text-anchor="end" font-weight="normal" textLength="13.2" lengthAdjust="spacingAndGlyphs" stroke="#5e5e5e" stroke-width="0.2">4K</text>
<text x="111.4" y="682.4" font-size="12.2" fill="#5e5e5e" text-anchor="end" font-weight="normal" textLength="13.2" lengthAdjust="spacingAndGlyphs" stroke="#5e5e5e" stroke-width="0.2">2K</text>
<text x="111.4" y="743.0" font-size="12.2" fill="#5e5e5e" text-anchor="end" font-weight="normal" textLength="13.2" lengthAdjust="spacingAndGlyphs" stroke="#5e5e5e" stroke-width="0.2">0K</text>
<text x="111.3" y="786.4" font-size="12.2" fill="#5e5e5e" text-anchor="end" font-weight="normal" textLength="12.4" lengthAdjust="spacingAndGlyphs" stroke="#5e5e5e" stroke-width="0.2">60</text>
<text x="111.3" y="835.4" font-size="12.2" fill="#5e5e5e" text-anchor="end" font-weight="normal" textLength="12.4" lengthAdjust="spacingAndGlyphs" stroke="#5e5e5e" stroke-width="0.2">50</text>
<text x="111.3" y="883.4" font-size="12.2" fill="#5e5e5e" text-anchor="end" font-weight="normal" textLength="12.4" lengthAdjust="spacingAndGlyphs" stroke="#5e5e5e" stroke-width="0.2">40</text>
<text x="111.3" y="931.4" font-size="12.2" fill="#5e5e5e" text-anchor="end" font-weight="normal" textLength="12.4" lengthAdjust="spacingAndGlyphs" stroke="#5e5e5e" stroke-width="0.2">30</text>
<text x="111.3" y="979.4" font-size="12.2" fill="#5e5e5e" text-anchor="end" font-weight="normal" textLength="12.4" lengthAdjust="spacingAndGlyphs" stroke="#5e5e5e" stroke-width="0.2">20</text>
<text x="111.3" y="1028.4" font-size="12.2" fill="#5e5e5e" text-anchor="end" font-weight="normal" textLength="12.4" lengthAdjust="spacingAndGlyphs" stroke="#5e5e5e" stroke-width="0.2">10</text>
<text x="111.3" y="1076.4" font-size="12.2" fill="#5e5e5e" text-anchor="end" font-weight="normal" textLength="6.2" lengthAdjust="spacingAndGlyphs" stroke="#5e5e5e" stroke-width="0.2">0</text>
<text x="5.9" y="229.6" font-size="12" fill="#5e5e5e" text-anchor="start" font-weight="normal" textLength="32.3" lengthAdjust="spacingAndGlyphs" stroke="#5e5e5e" stroke-width="0.2">Active</text>
<text x="6.4" y="244.5" font-size="12" fill="#5e5e5e" text-anchor="start" font-weight="normal" textLength="41.8" lengthAdjust="spacingAndGlyphs" stroke="#5e5e5e" stroke-width="0.2">probing</text>
<text x="6.3" y="579.6" font-size="12" fill="#5e5e5e" text-anchor="start" font-weight="normal" textLength="21.5" lengthAdjust="spacingAndGlyphs" stroke="#5e5e5e" stroke-width="0.2">BGP</text>
<text x="6.3" y="922.5" font-size="12" fill="#5e5e5e" text-anchor="start" font-weight="normal" textLength="17.5" lengthAdjust="spacingAndGlyphs" stroke="#5e5e5e" stroke-width="0.2">IBR</text>
<text x="5.4" y="28.5" font-size="21.5" fill="#404040" text-anchor="start" font-weight="normal" textLength="298.3" lengthAdjust="spacingAndGlyphs" stroke="#ffffff" stroke-width="0.55">Internet outage recovery in Iran</text>
<text x="6.2" y="59.0" font-size="12" fill="#333" text-anchor="start" font-weight="normal" textLength="60.2" lengthAdjust="spacingAndGlyphs" stroke="#333" stroke-width="0.2">datasource</text>
<text x="187.9" y="1106.9" font-size="12" fill="#5a5a5a" text-anchor="middle" font-weight="normal" textLength="63.8" lengthAdjust="spacingAndGlyphs" stroke="#5a5a5a" stroke-width="0.2">Nov 21 6 AM</text>
<text x="291.9" y="1106.9" font-size="12" fill="#5a5a5a" text-anchor="middle" font-weight="normal" textLength="63.8" lengthAdjust="spacingAndGlyphs" stroke="#5a5a5a" stroke-width="0.2">Nov 21 8 AM</text>
<text x="395.8" y="1106.9" font-size="12" fill="#5a5a5a" text-anchor="middle" font-weight="normal" textLength="68.8" lengthAdjust="spacingAndGlyphs" stroke="#5a5a5a" stroke-width="0.2">Nov 21 10 AM</text>
<text x="499.8" y="1106.9" font-size="12" fill="#5a5a5a" text-anchor="middle" font-weight="normal" textLength="68.8" lengthAdjust="spacingAndGlyphs" stroke="#5a5a5a" stroke-width="0.2">Nov 21 12 PM</text>
<text x="603.7" y="1106.9" font-size="12" fill="#5a5a5a" text-anchor="middle" font-weight="normal" textLength="63.8" lengthAdjust="spacingAndGlyphs" stroke="#5a5a5a" stroke-width="0.2">Nov 21 2 PM</text>
<text x="707.6" y="1106.9" font-size="12" fill="#5a5a5a" text-anchor="middle" font-weight="normal" textLength="63.8" lengthAdjust="spacingAndGlyphs" stroke="#5a5a5a" stroke-width="0.2">Nov 21 4 PM</text>
<text x="811.6" y="1106.9" font-size="12" fill="#5a5a5a" text-anchor="middle" font-weight="normal" textLength="63.8" lengthAdjust="spacingAndGlyphs" stroke="#5a5a5a" stroke-width="0.2">Nov 21 6 PM</text>
<text x="915.5" y="1106.9" font-size="12" fill="#5a5a5a" text-anchor="middle" font-weight="normal" textLength="63.8" lengthAdjust="spacingAndGlyphs" stroke="#5a5a5a" stroke-width="0.2">Nov 21 8 PM</text>
<text x="1019.5" y="1106.9" font-size="12" fill="#5a5a5a" text-anchor="middle" font-weight="normal" textLength="68.8" lengthAdjust="spacingAndGlyphs" stroke="#5a5a5a" stroke-width="0.2">Nov 21 10 PM</text>
<text x="1123.5" y="1106.9" font-size="12" fill="#5a5a5a" text-anchor="middle" font-weight="normal" textLength="68.8" lengthAdjust="spacingAndGlyphs" stroke="#5a5a5a" stroke-width="0.2">Nov 22 12 AM</text>
<text x="1227.4" y="1106.9" font-size="12" fill="#5a5a5a" text-anchor="middle" font-weight="normal" textLength="63.8" lengthAdjust="spacingAndGlyphs" stroke="#5a5a5a" stroke-width="0.2">Nov 22 2 AM</text>
<text x="1331.4" y="1106.9" font-size="12" fill="#5a5a5a" text-anchor="middle" font-weight="normal" textLength="63.8" lengthAdjust="spacingAndGlyphs" stroke="#5a5a5a" stroke-width="0.2">Nov 22 4 AM</text>
<text x="1435.3" y="1106.9" font-size="12" fill="#5a5a5a" text-anchor="middle" font-weight="normal" textLength="63.8" lengthAdjust="spacingAndGlyphs" stroke="#5a5a5a" stroke-width="0.2">Nov 22 6 AM</text>
<text x="1539.3" y="1106.9" font-size="12" fill="#5a5a5a" text-anchor="middle" font-weight="normal" textLength="63.8" lengthAdjust="spacingAndGlyphs" stroke="#5a5a5a" stroke-width="0.2">Nov 22 8 AM</text>
<text x="865.8" y="1133.5" font-size="12" fill="#333" text-anchor="middle" font-weight="normal" textLength="121.0" lengthAdjust="spacingAndGlyphs" stroke="#333" stroke-width="0.2">Time [November 2019]</text>
<text x="1626.5" y="56.0" font-size="12" fill="#333" text-anchor="start" font-weight="normal" textLength="44.4" lengthAdjust="spacingAndGlyphs" stroke="#333" stroke-width="0.2">Network</text>
<rect x="1628" y="62.0" width="14" height="14" fill="#3A86C4"/>
<text x="1647.2" y="72.8" font-size="12" fill="#333" text-anchor="start" font-weight="normal" textLength="142.1" lengthAdjust="spacingAndGlyphs" stroke="#333" stroke-width="0.2">Iran Telecom Co (AS58224)</text>
<rect x="1628" y="82.0" width="14" height="14" fill="#4B505A"/>
<text x="1647.2" y="92.8" font-size="12" fill="#333" text-anchor="start" font-weight="normal" textLength="97.3" lengthAdjust="spacingAndGlyphs" stroke="#333" stroke-width="0.2">IranCell (AS44244)</text>
<rect x="1628" y="102.0" width="14" height="14" fill="#F09444"/>
<text x="1647.2" y="112.8" font-size="12" fill="#333" text-anchor="start" font-weight="normal" textLength="71.1" lengthAdjust="spacingAndGlyphs" stroke="#333" stroke-width="0.2">ITC (AS12880)</text>
<rect x="1628" y="122.0" width="14" height="14" fill="#6EB5F2"/>
<text x="1647.2" y="132.8" font-size="12" fill="#333" text-anchor="start" font-weight="normal" textLength="85.0" lengthAdjust="spacingAndGlyphs" stroke="#333" stroke-width="0.2">MCCI (AS197207)</text>
<rect x="1628" y="142.0" width="14" height="14" fill="#B93634"/>
<text x="1647.2" y="152.8" font-size="12" fill="#333" text-anchor="start" font-weight="normal" textLength="112.7" lengthAdjust="spacingAndGlyphs" stroke="#333" stroke-width="0.2">ParsOnline (AS16322)</text>
<rect x="1628" y="162.0" width="14" height="14" fill="#3E8B68"/>
<text x="1647.2" y="172.8" font-size="12" fill="#333" text-anchor="start" font-weight="normal" textLength="74.5" lengthAdjust="spacingAndGlyphs" stroke="#333" stroke-width="0.2">PTE (AS49100)</text>
<rect x="1628" y="182.0" width="14" height="14" fill="#9B4DC1"/>
<text x="1647.2" y="192.8" font-size="12" fill="#333" text-anchor="start" font-weight="normal" textLength="91.1" lengthAdjust="spacingAndGlyphs" stroke="#333" stroke-width="0.2">Rightel (AS57218)</text>
<rect x="1628" y="202.0" width="14" height="14" fill="#C6E480"/>
<text x="1647.2" y="212.8" font-size="12" fill="#333" text-anchor="start" font-weight="normal" textLength="88.1" lengthAdjust="spacingAndGlyphs" stroke="#333" stroke-width="0.2">Shatel (AS31549)</text>
<line x1="403.9" y1="245.0" x2="482.4" y2="316.8" stroke="#d2d2d2" stroke-width="1"/>
<rect x="314.0" y="167.0" width="180.0" height="77.9" fill="#f9f9f9"/>
<text x="321.1" y="186.1" font-size="12" fill="#2b2b2b" text-anchor="start" font-weight="bold" textLength="164.1" lengthAdjust="spacingAndGlyphs">November 21, 2019 11:50 AM</text>
<text x="321.1" y="201.3" font-size="12" fill="#2b2b2b" text-anchor="start" font-weight="bold" textLength="31.0" lengthAdjust="spacingAndGlyphs">(UTC)</text>
<text x="321.1" y="216.9" font-size="12" fill="#808080" text-anchor="start" font-weight="normal" textLength="51.5" lengthAdjust="spacingAndGlyphs" stroke="#808080" stroke-width="0.2">Network:</text>
<text x="376.2" y="216.9" font-size="12" fill="#2b2b2b" text-anchor="start" font-weight="bold" textLength="79.9" lengthAdjust="spacingAndGlyphs">ITC (AS12880)</text>
<text x="321.1" y="232.2" font-size="12" fill="#808080" text-anchor="start" font-weight="normal" textLength="52.6" lengthAdjust="spacingAndGlyphs" stroke="#808080" stroke-width="0.2"># /24 Up:</text>
<text x="376.9" y="232.2" font-size="12" fill="#2b2b2b" text-anchor="start" font-weight="bold" textLength="12.6" lengthAdjust="spacingAndGlyphs">75</text>
<line x1="421.2" y1="537.0" x2="464.7" y2="629.3" stroke="#d2d2d2" stroke-width="1"/>
<rect x="283.3" y="475.0" width="276.4" height="61.7" fill="#f9f9f9"/>
<text x="290.3" y="494.1" font-size="12" fill="#2b2b2b" text-anchor="start" font-weight="bold" textLength="197.6" lengthAdjust="spacingAndGlyphs">November 21, 2019 11:25 AM (UTC)</text>
<text x="290.3" y="509.0" font-size="12" fill="#808080" text-anchor="start" font-weight="normal" textLength="51.5" lengthAdjust="spacingAndGlyphs" stroke="#808080" stroke-width="0.2">Network:</text>
<text x="345.3" y="509.0" font-size="12" fill="#2b2b2b" text-anchor="start" font-weight="bold" textLength="156.1" lengthAdjust="spacingAndGlyphs">Iran Telecom Co (AS58224)</text>
<text x="290.3" y="525.2" font-size="12" fill="#808080" text-anchor="start" font-weight="normal" textLength="74.9" lengthAdjust="spacingAndGlyphs" stroke="#808080" stroke-width="0.2"># /24 Visible:</text>
<text x="368.9" y="525.2" font-size="12" fill="#2b2b2b" text-anchor="start" font-weight="bold" textLength="31.2" lengthAdjust="spacingAndGlyphs">3,087</text>
<line x1="535.2" y1="935.0" x2="589.6" y2="1027.0" stroke="#d2d2d2" stroke-width="1"/>
<rect x="445.0" y="857.3" width="179.9" height="77.6" fill="#f9f9f9"/>
<text x="452.6" y="876.0" font-size="12" fill="#2b2b2b" text-anchor="start" font-weight="bold" textLength="157.5" lengthAdjust="spacingAndGlyphs">November 21, 2019 1:50 PM</text>
<text x="452.6" y="890.4" font-size="12" fill="#2b2b2b" text-anchor="start" font-weight="bold" textLength="31.0" lengthAdjust="spacingAndGlyphs">(UTC)</text>
<text x="452.6" y="906.5" font-size="12" fill="#808080" text-anchor="start" font-weight="normal" textLength="51.5" lengthAdjust="spacingAndGlyphs" stroke="#808080" stroke-width="0.2">Network:</text>
<text x="507.1" y="906.5" font-size="12" fill="#2b2b2b" text-anchor="start" font-weight="bold" textLength="98.7" lengthAdjust="spacingAndGlyphs">Shatel (AS31549)</text>
<text x="452.6" y="921.7" font-size="12" fill="#808080" text-anchor="start" font-weight="normal" textLength="117.2" lengthAdjust="spacingAndGlyphs" stroke="#808080" stroke-width="0.2"># unique source IPs:</text>
<text x="573.2" y="921.7" font-size="12" fill="#2b2b2b" text-anchor="start" font-weight="bold">7</text>
</svg>
</body></html>
